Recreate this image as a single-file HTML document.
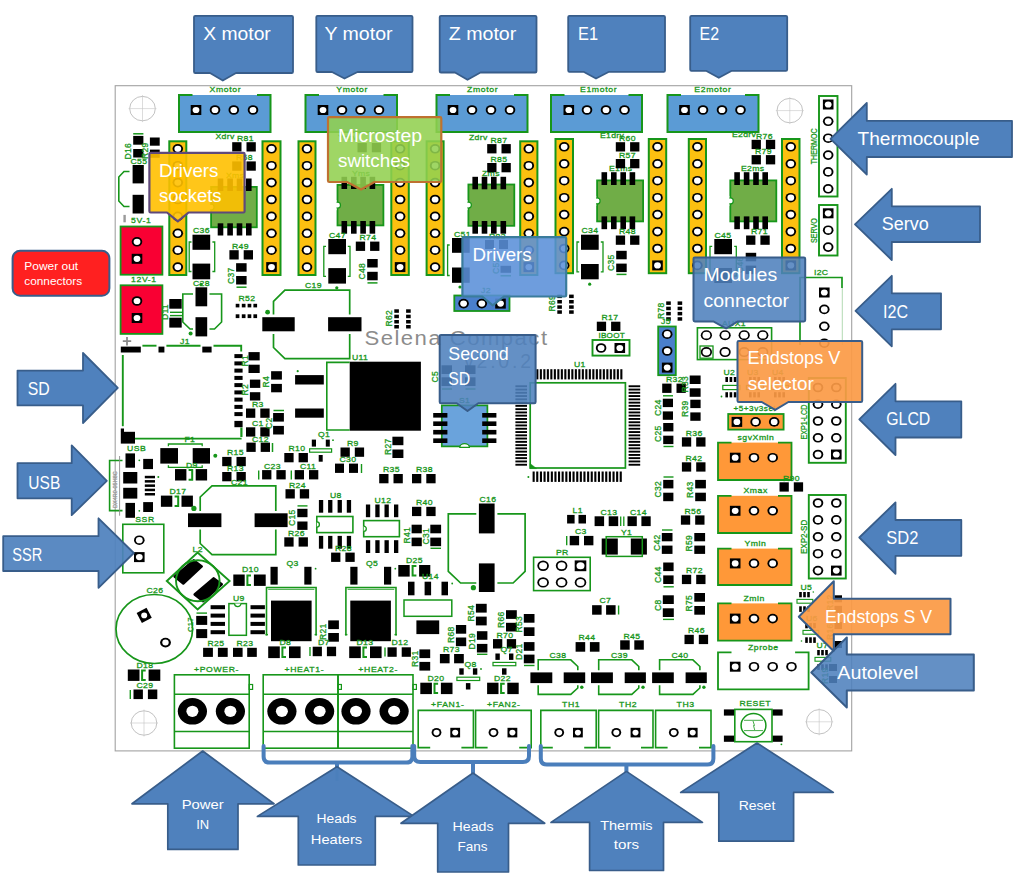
<!DOCTYPE html>
<html lang="en">
<head>
<meta charset="utf-8">
<title>Selena Compact board connections</title>
<style>
html,body{margin:0;padding:0;background:#fff;}
body{width:1018px;height:877px;overflow:hidden;font-family:"Liberation Sans",sans-serif;}
svg{display:block;}
svg text{font-family:"Liberation Sans",sans-serif;}
</style>
</head>
<body>
<svg width="1018" height="877" viewBox="0 0 1018 877">
<rect width="1018" height="877" fill="#fff"/>
<g id="pcb">
<rect x="115.2" y="85.7" width="736.5" height="665.2" fill="#fff" stroke="#a2a2a2" stroke-width="1.1"/>
<ellipse cx="142.5" cy="108.6" rx="12.8" ry="12.2" fill="none" stroke="#a8a8a8" stroke-width="0.7"/>
<path d="M128.5 108.6 h28 M142.5 95.1 v27" stroke="#c4c4c4" stroke-width="0.6" fill="none"/>
<ellipse cx="789.8" cy="110.6" rx="12.8" ry="12.2" fill="none" stroke="#a8a8a8" stroke-width="0.7"/>
<path d="M775.8 110.6 h28 M789.8 97.1 v27" stroke="#c4c4c4" stroke-width="0.6" fill="none"/>
<ellipse cx="144" cy="723" rx="12.8" ry="12.2" fill="none" stroke="#a8a8a8" stroke-width="0.7"/>
<path d="M130 723 h28 M144 709.5 v27" stroke="#c4c4c4" stroke-width="0.6" fill="none"/>
<ellipse cx="819.2" cy="721.8" rx="12.8" ry="12.2" fill="none" stroke="#a8a8a8" stroke-width="0.7"/>
<path d="M805.2 721.8 h28 M819.2 708.3 v27" stroke="#c4c4c4" stroke-width="0.6" fill="none"/>
<rect x="179" y="95" width="91.5" height="37" fill="#5b9bd5"/>
<path d="M192.5 95 L179 95 L179 132 L270.5 132 L270.5 95 L257 95" fill="none" stroke="#17961a" stroke-width="2" />
<rect x="190.7" y="105" width="10.6" height="10" fill="#000"/>
<ellipse cx="196" cy="110" rx="3.4" ry="3.1" fill="#fff"/>
<ellipse cx="215" cy="110" rx="5.3" ry="4.8" fill="#000"/>
<ellipse cx="215" cy="110" rx="3.4" ry="3.1" fill="#fff"/>
<ellipse cx="233.8" cy="110" rx="5.3" ry="4.8" fill="#000"/>
<ellipse cx="233.8" cy="110" rx="3.4" ry="3.1" fill="#fff"/>
<ellipse cx="253" cy="110" rx="5.3" ry="4.8" fill="#000"/>
<ellipse cx="253" cy="110" rx="3.4" ry="3.1" fill="#fff"/>
<text transform="translate(209.5 92) scale(1.07 1)" font-size="8.1" fill="#17961a" stroke="#17961a" stroke-width="0.3" text-anchor="start" letter-spacing="0.6" >Xmotor</text>
<rect x="305.5" y="95" width="91.5" height="37" fill="#5b9bd5"/>
<path d="M319 95 L305.5 95 L305.5 132 L397 132 L397 95 L383.5 95" fill="none" stroke="#17961a" stroke-width="2" />
<rect x="317.7" y="105" width="10.6" height="10" fill="#000"/>
<ellipse cx="323" cy="110" rx="3.4" ry="3.1" fill="#fff"/>
<ellipse cx="342" cy="110" rx="5.3" ry="4.8" fill="#000"/>
<ellipse cx="342" cy="110" rx="3.4" ry="3.1" fill="#fff"/>
<ellipse cx="360.5" cy="110" rx="5.3" ry="4.8" fill="#000"/>
<ellipse cx="360.5" cy="110" rx="3.4" ry="3.1" fill="#fff"/>
<ellipse cx="379" cy="110" rx="5.3" ry="4.8" fill="#000"/>
<ellipse cx="379" cy="110" rx="3.4" ry="3.1" fill="#fff"/>
<text transform="translate(336.3 92) scale(1.07 1)" font-size="8.1" fill="#17961a" stroke="#17961a" stroke-width="0.3" text-anchor="start" letter-spacing="0.6" >Ymotor</text>
<rect x="436.5" y="95" width="91" height="37" fill="#5b9bd5"/>
<path d="M450 95 L436.5 95 L436.5 132 L527.5 132 L527.5 95 L514 95" fill="none" stroke="#17961a" stroke-width="2" />
<rect x="447.7" y="105" width="10.6" height="10" fill="#000"/>
<ellipse cx="453" cy="110" rx="3.4" ry="3.1" fill="#fff"/>
<ellipse cx="472" cy="110" rx="5.3" ry="4.8" fill="#000"/>
<ellipse cx="472" cy="110" rx="3.4" ry="3.1" fill="#fff"/>
<ellipse cx="491" cy="110" rx="5.3" ry="4.8" fill="#000"/>
<ellipse cx="491" cy="110" rx="3.4" ry="3.1" fill="#fff"/>
<ellipse cx="510" cy="110" rx="5.3" ry="4.8" fill="#000"/>
<ellipse cx="510" cy="110" rx="3.4" ry="3.1" fill="#fff"/>
<text transform="translate(467 92) scale(1.07 1)" font-size="8.1" fill="#17961a" stroke="#17961a" stroke-width="0.3" text-anchor="start" letter-spacing="0.6" >Zmotor</text>
<rect x="551" y="95" width="91" height="37" fill="#5b9bd5"/>
<path d="M564.5 95 L551 95 L551 132 L642 132 L642 95 L628.5 95" fill="none" stroke="#17961a" stroke-width="2" />
<rect x="563.5" y="105" width="10.6" height="10" fill="#000"/>
<ellipse cx="568.8" cy="110" rx="3.4" ry="3.1" fill="#fff"/>
<ellipse cx="587" cy="110" rx="5.3" ry="4.8" fill="#000"/>
<ellipse cx="587" cy="110" rx="3.4" ry="3.1" fill="#fff"/>
<ellipse cx="606" cy="110" rx="5.3" ry="4.8" fill="#000"/>
<ellipse cx="606" cy="110" rx="3.4" ry="3.1" fill="#fff"/>
<ellipse cx="624.5" cy="110" rx="5.3" ry="4.8" fill="#000"/>
<ellipse cx="624.5" cy="110" rx="3.4" ry="3.1" fill="#fff"/>
<text transform="translate(580 92) scale(1.07 1)" font-size="8.1" fill="#17961a" stroke="#17961a" stroke-width="0.3" text-anchor="start" letter-spacing="0.6" >E1motor</text>
<rect x="667.5" y="95" width="91" height="37" fill="#5b9bd5"/>
<path d="M681 95 L667.5 95 L667.5 132 L758.5 132 L758.5 95 L745 95" fill="none" stroke="#17961a" stroke-width="2" />
<rect x="679.2" y="105" width="10.6" height="10" fill="#000"/>
<ellipse cx="684.5" cy="110" rx="3.4" ry="3.1" fill="#fff"/>
<ellipse cx="703" cy="110" rx="5.3" ry="4.8" fill="#000"/>
<ellipse cx="703" cy="110" rx="3.4" ry="3.1" fill="#fff"/>
<ellipse cx="722" cy="110" rx="5.3" ry="4.8" fill="#000"/>
<ellipse cx="722" cy="110" rx="3.4" ry="3.1" fill="#fff"/>
<ellipse cx="740.5" cy="110" rx="5.3" ry="4.8" fill="#000"/>
<ellipse cx="740.5" cy="110" rx="3.4" ry="3.1" fill="#fff"/>
<text transform="translate(694.3 92) scale(1.07 1)" font-size="8.1" fill="#17961a" stroke="#17961a" stroke-width="0.3" text-anchor="start" letter-spacing="0.6" >E2motor</text>
<rect x="169.3" y="141.3" width="17" height="133.7" fill="#fcc010" stroke="#17961a" stroke-width="2"/>
<ellipse cx="177.8" cy="148.8" rx="5.3" ry="4.8" fill="#000"/>
<ellipse cx="177.8" cy="148.8" rx="3.4" ry="3.1" fill="#fff"/>
<ellipse cx="177.8" cy="165.7" rx="5.3" ry="4.8" fill="#000"/>
<ellipse cx="177.8" cy="165.7" rx="3.4" ry="3.1" fill="#fff"/>
<ellipse cx="177.8" cy="182.6" rx="5.3" ry="4.8" fill="#000"/>
<ellipse cx="177.8" cy="182.6" rx="3.4" ry="3.1" fill="#fff"/>
<ellipse cx="177.8" cy="199.5" rx="5.3" ry="4.8" fill="#000"/>
<ellipse cx="177.8" cy="199.5" rx="3.4" ry="3.1" fill="#fff"/>
<ellipse cx="177.8" cy="216.4" rx="5.3" ry="4.8" fill="#000"/>
<ellipse cx="177.8" cy="216.4" rx="3.4" ry="3.1" fill="#fff"/>
<ellipse cx="177.8" cy="233.3" rx="5.3" ry="4.8" fill="#000"/>
<ellipse cx="177.8" cy="233.3" rx="3.4" ry="3.1" fill="#fff"/>
<ellipse cx="177.8" cy="250.2" rx="5.3" ry="4.8" fill="#000"/>
<ellipse cx="177.8" cy="250.2" rx="3.4" ry="3.1" fill="#fff"/>
<ellipse cx="177.8" cy="267.1" rx="5.3" ry="4.8" fill="#000"/>
<ellipse cx="177.8" cy="267.1" rx="3.4" ry="3.1" fill="#fff"/>
<rect x="262.5" y="141.3" width="18" height="133.7" fill="#fcc010" stroke="#17961a" stroke-width="2"/>
<ellipse cx="271.5" cy="148.8" rx="5.3" ry="4.8" fill="#000"/>
<ellipse cx="271.5" cy="148.8" rx="3.4" ry="3.1" fill="#fff"/>
<ellipse cx="271.5" cy="165.7" rx="5.3" ry="4.8" fill="#000"/>
<ellipse cx="271.5" cy="165.7" rx="3.4" ry="3.1" fill="#fff"/>
<ellipse cx="271.5" cy="182.6" rx="5.3" ry="4.8" fill="#000"/>
<ellipse cx="271.5" cy="182.6" rx="3.4" ry="3.1" fill="#fff"/>
<ellipse cx="271.5" cy="199.5" rx="5.3" ry="4.8" fill="#000"/>
<ellipse cx="271.5" cy="199.5" rx="3.4" ry="3.1" fill="#fff"/>
<ellipse cx="271.5" cy="216.4" rx="5.3" ry="4.8" fill="#000"/>
<ellipse cx="271.5" cy="216.4" rx="3.4" ry="3.1" fill="#fff"/>
<ellipse cx="271.5" cy="233.3" rx="5.3" ry="4.8" fill="#000"/>
<ellipse cx="271.5" cy="233.3" rx="3.4" ry="3.1" fill="#fff"/>
<ellipse cx="271.5" cy="250.2" rx="5.3" ry="4.8" fill="#000"/>
<ellipse cx="271.5" cy="250.2" rx="3.4" ry="3.1" fill="#fff"/>
<rect x="266.2" y="262.1" width="10.6" height="10" fill="#000"/>
<ellipse cx="271.5" cy="267.1" rx="3.4" ry="3.1" fill="#fff"/>
<rect x="298.5" y="141.3" width="17" height="133.7" fill="#fcc010" stroke="#17961a" stroke-width="2"/>
<ellipse cx="307" cy="148.8" rx="5.3" ry="4.8" fill="#000"/>
<ellipse cx="307" cy="148.8" rx="3.4" ry="3.1" fill="#fff"/>
<ellipse cx="307" cy="165.7" rx="5.3" ry="4.8" fill="#000"/>
<ellipse cx="307" cy="165.7" rx="3.4" ry="3.1" fill="#fff"/>
<ellipse cx="307" cy="182.6" rx="5.3" ry="4.8" fill="#000"/>
<ellipse cx="307" cy="182.6" rx="3.4" ry="3.1" fill="#fff"/>
<ellipse cx="307" cy="199.5" rx="5.3" ry="4.8" fill="#000"/>
<ellipse cx="307" cy="199.5" rx="3.4" ry="3.1" fill="#fff"/>
<ellipse cx="307" cy="216.4" rx="5.3" ry="4.8" fill="#000"/>
<ellipse cx="307" cy="216.4" rx="3.4" ry="3.1" fill="#fff"/>
<ellipse cx="307" cy="233.3" rx="5.3" ry="4.8" fill="#000"/>
<ellipse cx="307" cy="233.3" rx="3.4" ry="3.1" fill="#fff"/>
<ellipse cx="307" cy="250.2" rx="5.3" ry="4.8" fill="#000"/>
<ellipse cx="307" cy="250.2" rx="3.4" ry="3.1" fill="#fff"/>
<ellipse cx="307" cy="267.1" rx="5.3" ry="4.8" fill="#000"/>
<ellipse cx="307" cy="267.1" rx="3.4" ry="3.1" fill="#fff"/>
<rect x="391.3" y="141.3" width="17.5" height="133.7" fill="#fcc010" stroke="#17961a" stroke-width="2"/>
<ellipse cx="400.1" cy="148.8" rx="5.3" ry="4.8" fill="#000"/>
<ellipse cx="400.1" cy="148.8" rx="3.4" ry="3.1" fill="#fff"/>
<ellipse cx="400.1" cy="165.7" rx="5.3" ry="4.8" fill="#000"/>
<ellipse cx="400.1" cy="165.7" rx="3.4" ry="3.1" fill="#fff"/>
<ellipse cx="400.1" cy="182.6" rx="5.3" ry="4.8" fill="#000"/>
<ellipse cx="400.1" cy="182.6" rx="3.4" ry="3.1" fill="#fff"/>
<ellipse cx="400.1" cy="199.5" rx="5.3" ry="4.8" fill="#000"/>
<ellipse cx="400.1" cy="199.5" rx="3.4" ry="3.1" fill="#fff"/>
<ellipse cx="400.1" cy="216.4" rx="5.3" ry="4.8" fill="#000"/>
<ellipse cx="400.1" cy="216.4" rx="3.4" ry="3.1" fill="#fff"/>
<ellipse cx="400.1" cy="233.3" rx="5.3" ry="4.8" fill="#000"/>
<ellipse cx="400.1" cy="233.3" rx="3.4" ry="3.1" fill="#fff"/>
<ellipse cx="400.1" cy="250.2" rx="5.3" ry="4.8" fill="#000"/>
<ellipse cx="400.1" cy="250.2" rx="3.4" ry="3.1" fill="#fff"/>
<rect x="394.8" y="262.1" width="10.6" height="10" fill="#000"/>
<ellipse cx="400.1" cy="267.1" rx="3.4" ry="3.1" fill="#fff"/>
<rect x="426.6" y="141.3" width="17" height="133.7" fill="#fcc010" stroke="#17961a" stroke-width="2"/>
<ellipse cx="435.1" cy="148.8" rx="5.3" ry="4.8" fill="#000"/>
<ellipse cx="435.1" cy="148.8" rx="3.4" ry="3.1" fill="#fff"/>
<ellipse cx="435.1" cy="165.7" rx="5.3" ry="4.8" fill="#000"/>
<ellipse cx="435.1" cy="165.7" rx="3.4" ry="3.1" fill="#fff"/>
<ellipse cx="435.1" cy="182.6" rx="5.3" ry="4.8" fill="#000"/>
<ellipse cx="435.1" cy="182.6" rx="3.4" ry="3.1" fill="#fff"/>
<ellipse cx="435.1" cy="199.5" rx="5.3" ry="4.8" fill="#000"/>
<ellipse cx="435.1" cy="199.5" rx="3.4" ry="3.1" fill="#fff"/>
<ellipse cx="435.1" cy="216.4" rx="5.3" ry="4.8" fill="#000"/>
<ellipse cx="435.1" cy="216.4" rx="3.4" ry="3.1" fill="#fff"/>
<ellipse cx="435.1" cy="233.3" rx="5.3" ry="4.8" fill="#000"/>
<ellipse cx="435.1" cy="233.3" rx="3.4" ry="3.1" fill="#fff"/>
<ellipse cx="435.1" cy="250.2" rx="5.3" ry="4.8" fill="#000"/>
<ellipse cx="435.1" cy="250.2" rx="3.4" ry="3.1" fill="#fff"/>
<ellipse cx="435.1" cy="267.1" rx="5.3" ry="4.8" fill="#000"/>
<ellipse cx="435.1" cy="267.1" rx="3.4" ry="3.1" fill="#fff"/>
<rect x="520.2" y="141.3" width="17.2" height="133.7" fill="#fcc010" stroke="#17961a" stroke-width="2"/>
<ellipse cx="528.8" cy="148.8" rx="5.3" ry="4.8" fill="#000"/>
<ellipse cx="528.8" cy="148.8" rx="3.4" ry="3.1" fill="#fff"/>
<ellipse cx="528.8" cy="165.7" rx="5.3" ry="4.8" fill="#000"/>
<ellipse cx="528.8" cy="165.7" rx="3.4" ry="3.1" fill="#fff"/>
<ellipse cx="528.8" cy="182.6" rx="5.3" ry="4.8" fill="#000"/>
<ellipse cx="528.8" cy="182.6" rx="3.4" ry="3.1" fill="#fff"/>
<ellipse cx="528.8" cy="199.5" rx="5.3" ry="4.8" fill="#000"/>
<ellipse cx="528.8" cy="199.5" rx="3.4" ry="3.1" fill="#fff"/>
<ellipse cx="528.8" cy="216.4" rx="5.3" ry="4.8" fill="#000"/>
<ellipse cx="528.8" cy="216.4" rx="3.4" ry="3.1" fill="#fff"/>
<ellipse cx="528.8" cy="233.3" rx="5.3" ry="4.8" fill="#000"/>
<ellipse cx="528.8" cy="233.3" rx="3.4" ry="3.1" fill="#fff"/>
<ellipse cx="528.8" cy="250.2" rx="5.3" ry="4.8" fill="#000"/>
<ellipse cx="528.8" cy="250.2" rx="3.4" ry="3.1" fill="#fff"/>
<rect x="523.5" y="262.1" width="10.6" height="10" fill="#000"/>
<ellipse cx="528.8" cy="267.1" rx="3.4" ry="3.1" fill="#fff"/>
<rect x="555.5" y="139" width="17.5" height="134.2" fill="#fcc010" stroke="#17961a" stroke-width="2"/>
<ellipse cx="564.2" cy="146.8" rx="5.3" ry="4.8" fill="#000"/>
<ellipse cx="564.2" cy="146.8" rx="3.4" ry="3.1" fill="#fff"/>
<ellipse cx="564.2" cy="163.8" rx="5.3" ry="4.8" fill="#000"/>
<ellipse cx="564.2" cy="163.8" rx="3.4" ry="3.1" fill="#fff"/>
<ellipse cx="564.2" cy="180.7" rx="5.3" ry="4.8" fill="#000"/>
<ellipse cx="564.2" cy="180.7" rx="3.4" ry="3.1" fill="#fff"/>
<ellipse cx="564.2" cy="197.7" rx="5.3" ry="4.8" fill="#000"/>
<ellipse cx="564.2" cy="197.7" rx="3.4" ry="3.1" fill="#fff"/>
<ellipse cx="564.2" cy="214.6" rx="5.3" ry="4.8" fill="#000"/>
<ellipse cx="564.2" cy="214.6" rx="3.4" ry="3.1" fill="#fff"/>
<ellipse cx="564.2" cy="231.6" rx="5.3" ry="4.8" fill="#000"/>
<ellipse cx="564.2" cy="231.6" rx="3.4" ry="3.1" fill="#fff"/>
<ellipse cx="564.2" cy="248.5" rx="5.3" ry="4.8" fill="#000"/>
<ellipse cx="564.2" cy="248.5" rx="3.4" ry="3.1" fill="#fff"/>
<ellipse cx="564.2" cy="265.4" rx="5.3" ry="4.8" fill="#000"/>
<ellipse cx="564.2" cy="265.4" rx="3.4" ry="3.1" fill="#fff"/>
<rect x="648.8" y="139" width="17.4" height="134.2" fill="#fcc010" stroke="#17961a" stroke-width="2"/>
<ellipse cx="657.5" cy="146.8" rx="5.3" ry="4.8" fill="#000"/>
<ellipse cx="657.5" cy="146.8" rx="3.4" ry="3.1" fill="#fff"/>
<ellipse cx="657.5" cy="163.8" rx="5.3" ry="4.8" fill="#000"/>
<ellipse cx="657.5" cy="163.8" rx="3.4" ry="3.1" fill="#fff"/>
<ellipse cx="657.5" cy="180.7" rx="5.3" ry="4.8" fill="#000"/>
<ellipse cx="657.5" cy="180.7" rx="3.4" ry="3.1" fill="#fff"/>
<ellipse cx="657.5" cy="197.7" rx="5.3" ry="4.8" fill="#000"/>
<ellipse cx="657.5" cy="197.7" rx="3.4" ry="3.1" fill="#fff"/>
<ellipse cx="657.5" cy="214.6" rx="5.3" ry="4.8" fill="#000"/>
<ellipse cx="657.5" cy="214.6" rx="3.4" ry="3.1" fill="#fff"/>
<ellipse cx="657.5" cy="231.6" rx="5.3" ry="4.8" fill="#000"/>
<ellipse cx="657.5" cy="231.6" rx="3.4" ry="3.1" fill="#fff"/>
<ellipse cx="657.5" cy="248.5" rx="5.3" ry="4.8" fill="#000"/>
<ellipse cx="657.5" cy="248.5" rx="3.4" ry="3.1" fill="#fff"/>
<rect x="652.2" y="260.4" width="10.6" height="10" fill="#000"/>
<ellipse cx="657.5" cy="265.4" rx="3.4" ry="3.1" fill="#fff"/>
<rect x="688.8" y="139" width="17.2" height="134.2" fill="#fcc010" stroke="#17961a" stroke-width="2"/>
<ellipse cx="697.4" cy="146.8" rx="5.3" ry="4.8" fill="#000"/>
<ellipse cx="697.4" cy="146.8" rx="3.4" ry="3.1" fill="#fff"/>
<ellipse cx="697.4" cy="163.8" rx="5.3" ry="4.8" fill="#000"/>
<ellipse cx="697.4" cy="163.8" rx="3.4" ry="3.1" fill="#fff"/>
<ellipse cx="697.4" cy="180.7" rx="5.3" ry="4.8" fill="#000"/>
<ellipse cx="697.4" cy="180.7" rx="3.4" ry="3.1" fill="#fff"/>
<ellipse cx="697.4" cy="197.7" rx="5.3" ry="4.8" fill="#000"/>
<ellipse cx="697.4" cy="197.7" rx="3.4" ry="3.1" fill="#fff"/>
<ellipse cx="697.4" cy="214.6" rx="5.3" ry="4.8" fill="#000"/>
<ellipse cx="697.4" cy="214.6" rx="3.4" ry="3.1" fill="#fff"/>
<ellipse cx="697.4" cy="231.6" rx="5.3" ry="4.8" fill="#000"/>
<ellipse cx="697.4" cy="231.6" rx="3.4" ry="3.1" fill="#fff"/>
<ellipse cx="697.4" cy="248.5" rx="5.3" ry="4.8" fill="#000"/>
<ellipse cx="697.4" cy="248.5" rx="3.4" ry="3.1" fill="#fff"/>
<ellipse cx="697.4" cy="265.4" rx="5.3" ry="4.8" fill="#000"/>
<ellipse cx="697.4" cy="265.4" rx="3.4" ry="3.1" fill="#fff"/>
<rect x="782" y="139" width="17.5" height="134.2" fill="#fcc010" stroke="#17961a" stroke-width="2"/>
<ellipse cx="790.8" cy="146.8" rx="5.3" ry="4.8" fill="#000"/>
<ellipse cx="790.8" cy="146.8" rx="3.4" ry="3.1" fill="#fff"/>
<ellipse cx="790.8" cy="163.8" rx="5.3" ry="4.8" fill="#000"/>
<ellipse cx="790.8" cy="163.8" rx="3.4" ry="3.1" fill="#fff"/>
<ellipse cx="790.8" cy="180.7" rx="5.3" ry="4.8" fill="#000"/>
<ellipse cx="790.8" cy="180.7" rx="3.4" ry="3.1" fill="#fff"/>
<ellipse cx="790.8" cy="197.7" rx="5.3" ry="4.8" fill="#000"/>
<ellipse cx="790.8" cy="197.7" rx="3.4" ry="3.1" fill="#fff"/>
<ellipse cx="790.8" cy="214.6" rx="5.3" ry="4.8" fill="#000"/>
<ellipse cx="790.8" cy="214.6" rx="3.4" ry="3.1" fill="#fff"/>
<ellipse cx="790.8" cy="231.6" rx="5.3" ry="4.8" fill="#000"/>
<ellipse cx="790.8" cy="231.6" rx="3.4" ry="3.1" fill="#fff"/>
<ellipse cx="790.8" cy="248.5" rx="5.3" ry="4.8" fill="#000"/>
<ellipse cx="790.8" cy="248.5" rx="3.4" ry="3.1" fill="#fff"/>
<rect x="785.5" y="260.4" width="10.6" height="10" fill="#000"/>
<ellipse cx="790.8" cy="265.4" rx="3.4" ry="3.1" fill="#fff"/>
<rect x="211.1" y="186.9" width="45.7" height="40.4" fill="#70ad47" stroke="#17961a" stroke-width="1.8"/>
<circle cx="211.1" cy="207.1" r="3" fill="#fff" stroke="#17961a" stroke-width="1.2"/>
<rect x="206.2" y="202.1" width="4" height="10" fill="#fff"/>
<rect x="217.7" y="178.5" width="5.6" height="12.5" fill="#000"/>
<rect x="217.7" y="223.3" width="5.6" height="12.2" fill="#000"/>
<rect x="227.3" y="178.5" width="5.6" height="12.5" fill="#000"/>
<rect x="227.3" y="223.3" width="5.6" height="12.2" fill="#000"/>
<rect x="236.7" y="178.5" width="5.6" height="12.5" fill="#000"/>
<rect x="236.7" y="223.3" width="5.6" height="12.2" fill="#000"/>
<rect x="246" y="178.5" width="5.6" height="12.5" fill="#000"/>
<rect x="246" y="223.3" width="5.6" height="12.2" fill="#000"/>
<text transform="translate(226 178) scale(1.07 1)" font-size="8.1" fill="#17961a" stroke="#17961a" stroke-width="0.3" text-anchor="start" letter-spacing="0.3" >Xms</text>
<rect x="337.5" y="184.9" width="45.9" height="40.5" fill="#70ad47" stroke="#17961a" stroke-width="1.8"/>
<circle cx="337.5" cy="205.2" r="3" fill="#fff" stroke="#17961a" stroke-width="1.2"/>
<rect x="332.6" y="200.2" width="4" height="10" fill="#fff"/>
<rect x="341.5" y="176.8" width="5.6" height="12.2" fill="#000"/>
<rect x="341.5" y="221" width="5.6" height="12.7" fill="#000"/>
<rect x="351" y="176.8" width="5.6" height="12.2" fill="#000"/>
<rect x="351" y="221" width="5.6" height="12.7" fill="#000"/>
<rect x="360.3" y="176.8" width="5.6" height="12.2" fill="#000"/>
<rect x="360.3" y="221" width="5.6" height="12.7" fill="#000"/>
<rect x="369.6" y="176.8" width="5.6" height="12.2" fill="#000"/>
<rect x="369.6" y="221" width="5.6" height="12.7" fill="#000"/>
<text transform="translate(352 176) scale(1.07 1)" font-size="8.1" fill="#17961a" stroke="#17961a" stroke-width="0.3" text-anchor="start" letter-spacing="0.3" >Yms</text>
<rect x="468.4" y="184.5" width="45.9" height="41.3" fill="#70ad47" stroke="#17961a" stroke-width="1.8"/>
<circle cx="468.4" cy="205.1" r="3" fill="#fff" stroke="#17961a" stroke-width="1.2"/>
<rect x="463.5" y="200.1" width="4" height="10" fill="#fff"/>
<rect x="472.4" y="176.8" width="5.6" height="12.5" fill="#000"/>
<rect x="472.4" y="221" width="5.6" height="12.7" fill="#000"/>
<rect x="481.7" y="176.8" width="5.6" height="12.5" fill="#000"/>
<rect x="481.7" y="221" width="5.6" height="12.7" fill="#000"/>
<rect x="491" y="176.8" width="5.6" height="12.5" fill="#000"/>
<rect x="491" y="221" width="5.6" height="12.7" fill="#000"/>
<rect x="500.5" y="176.8" width="5.6" height="12.5" fill="#000"/>
<rect x="500.5" y="221" width="5.6" height="12.7" fill="#000"/>
<text transform="translate(482 175.5) scale(1.07 1)" font-size="8.1" fill="#17961a" stroke="#17961a" stroke-width="0.3" text-anchor="start" letter-spacing="0.3" >Zms</text>
<rect x="597.1" y="180.4" width="46" height="41" fill="#70ad47" stroke="#17961a" stroke-width="1.8"/>
<circle cx="597.1" cy="200.9" r="3" fill="#fff" stroke="#17961a" stroke-width="1.2"/>
<rect x="592.2" y="195.9" width="4" height="10" fill="#fff"/>
<rect x="601.5" y="172.2" width="5.6" height="12.8" fill="#000"/>
<rect x="601.5" y="216.4" width="5.6" height="12.8" fill="#000"/>
<rect x="611" y="172.2" width="5.6" height="12.8" fill="#000"/>
<rect x="611" y="216.4" width="5.6" height="12.8" fill="#000"/>
<rect x="620.4" y="172.2" width="5.6" height="12.8" fill="#000"/>
<rect x="620.4" y="216.4" width="5.6" height="12.8" fill="#000"/>
<rect x="629.6" y="172.2" width="5.6" height="12.8" fill="#000"/>
<rect x="629.6" y="216.4" width="5.6" height="12.8" fill="#000"/>
<text transform="translate(609 171) scale(1.07 1)" font-size="8.1" fill="#17961a" stroke="#17961a" stroke-width="0.3" text-anchor="start" letter-spacing="0.3" >E1ms</text>
<rect x="730.3" y="180.4" width="46" height="41" fill="#70ad47" stroke="#17961a" stroke-width="1.8"/>
<circle cx="730.3" cy="200.9" r="3" fill="#fff" stroke="#17961a" stroke-width="1.2"/>
<rect x="725.4" y="195.9" width="4" height="10" fill="#fff"/>
<rect x="734.3" y="172.2" width="5.6" height="12.8" fill="#000"/>
<rect x="734.3" y="216.4" width="5.6" height="12.8" fill="#000"/>
<rect x="743.8" y="172.2" width="5.6" height="12.8" fill="#000"/>
<rect x="743.8" y="216.4" width="5.6" height="12.8" fill="#000"/>
<rect x="753.2" y="172.2" width="5.6" height="12.8" fill="#000"/>
<rect x="753.2" y="216.4" width="5.6" height="12.8" fill="#000"/>
<rect x="762.4" y="172.2" width="5.6" height="12.8" fill="#000"/>
<rect x="762.4" y="216.4" width="5.6" height="12.8" fill="#000"/>
<text transform="translate(741 171) scale(1.07 1)" font-size="8.1" fill="#17961a" stroke="#17961a" stroke-width="0.3" text-anchor="start" letter-spacing="0.3" >E2ms</text>
<rect x="133.2" y="135.9" width="10.2" height="8.8" fill="#000"/>
<rect x="133.2" y="149" width="10.2" height="8.5" fill="#000"/>
<path d="M133.2 133.8 L143.4 133.8" fill="none" stroke="#17961a" stroke-width="1.5" />
<text transform="translate(131 159.5) rotate(-90) scale(1.00 1)" font-size="8.5" fill="#17961a" stroke="#17961a" stroke-width="0.3" text-anchor="start" letter-spacing="0.3" >D16</text>
<rect x="149.9" y="137.5" width="9.8" height="8.2" fill="#000"/>
<rect x="149.9" y="149.6" width="9.8" height="8.2" fill="#000"/>
<text transform="translate(147.5 159) rotate(-90) scale(1.00 1)" font-size="8.5" fill="#17961a" stroke="#17961a" stroke-width="0.3" text-anchor="start" letter-spacing="0.3" >R29</text>
<rect x="132.6" y="165" width="11.2" height="18.4" fill="#000"/>
<rect x="132.6" y="194.8" width="11.2" height="18.7" fill="#000"/>
<path d="M129.5 171.5 L124 171.5 L118.8 177 L118.8 201 L124 206.5 L129.5 206.5" fill="none" stroke="#17961a" stroke-width="1.6" />
<text transform="translate(130.5 163.5) scale(1.07 1)" font-size="8.1" fill="#17961a" stroke="#17961a" stroke-width="0.3" text-anchor="start" letter-spacing="0.3" >C55</text>
<rect x="123.4" y="214.9" width="2.4" height="7.4" fill="#9a9a9a"/>
<rect x="232.2" y="142.2" width="9.3" height="9.3" fill="#000"/>
<rect x="246.5" y="142.2" width="9.3" height="9.3" fill="#000"/>
<text transform="translate(237 140.5) scale(1.07 1)" font-size="8.1" fill="#17961a" stroke="#17961a" stroke-width="0.3" text-anchor="start" letter-spacing="0.3" >R81</text>
<rect x="232.2" y="161.4" width="9.3" height="9.3" fill="#000"/>
<rect x="246.5" y="161.4" width="9.3" height="9.3" fill="#000"/>
<text transform="translate(236 160) scale(1.07 1)" font-size="8.1" fill="#17961a" stroke="#17961a" stroke-width="0.3" text-anchor="start" letter-spacing="0.3" >R58</text>
<text transform="translate(215.5 138.5) scale(1.07 1)" font-size="8.1" fill="#17961a" stroke="#17961a" stroke-width="0.3" text-anchor="start" letter-spacing="0.3" >Xdrv</text>
<rect x="192.5" y="234.7" width="17.7" height="15.1" fill="#000"/>
<rect x="192.5" y="263.6" width="17.7" height="15.7" fill="#000"/>
<path d="M191.5 242 L189.2 242 L189.2 271.5 L191.5 271.5" fill="none" stroke="#17961a" stroke-width="1.3" />
<path d="M212.4 242 L214.7 242 L214.7 271.5 L212.4 271.5" fill="none" stroke="#17961a" stroke-width="1.3" />
<text transform="translate(193 233) scale(1.07 1)" font-size="8.1" fill="#17961a" stroke="#17961a" stroke-width="0.3" text-anchor="start" letter-spacing="0.3" >C36</text>
<rect x="229.4" y="250.2" width="9.3" height="9.3" fill="#000"/>
<rect x="243.7" y="250.2" width="9.3" height="9.3" fill="#000"/>
<text transform="translate(232 248.5) scale(1.07 1)" font-size="8.1" fill="#17961a" stroke="#17961a" stroke-width="0.3" text-anchor="start" letter-spacing="0.3" >R49</text>
<rect x="236.1" y="263.2" width="10.5" height="8.5" fill="#000"/>
<rect x="236.1" y="276" width="10.5" height="8.5" fill="#000"/>
<text transform="translate(233.5 284) rotate(-90) scale(1.00 1)" font-size="8.5" fill="#17961a" stroke="#17961a" stroke-width="0.3" text-anchor="start" letter-spacing="0.3" >C37</text>
<path d="M236.5 287.2 L246.5 287.2" fill="none" stroke="#17961a" stroke-width="1.5" />
<rect x="328.3" y="239" width="17.7" height="15.2" fill="#000"/>
<rect x="328.3" y="268.1" width="17.7" height="15.5" fill="#000"/>
<path d="M326 246.3 L323.8 246.3 L323.8 276.4 L326 276.4" fill="none" stroke="#17961a" stroke-width="1.3" />
<path d="M347.8 246.3 L350 246.3 L350 276.4 L347.8 276.4" fill="none" stroke="#17961a" stroke-width="1.3" />
<circle cx="336.8" cy="287.8" r="1.6" fill="#17961a"/>
<text transform="translate(329 237.5) scale(1.07 1)" font-size="8.1" fill="#17961a" stroke="#17961a" stroke-width="0.3" text-anchor="start" letter-spacing="0.3" >C47</text>
<rect x="355.8" y="241.6" width="9.3" height="9.3" fill="#000"/>
<rect x="370.1" y="241.6" width="9.3" height="9.3" fill="#000"/>
<text transform="translate(359.5 240) scale(1.07 1)" font-size="8.1" fill="#17961a" stroke="#17961a" stroke-width="0.3" text-anchor="start" letter-spacing="0.3" >R74</text>
<rect x="367.2" y="259" width="10.5" height="8.5" fill="#000"/>
<rect x="367.2" y="271.8" width="10.5" height="8.5" fill="#000"/>
<text transform="translate(364.5 279.5) rotate(-90) scale(1.00 1)" font-size="8.5" fill="#17961a" stroke="#17961a" stroke-width="0.3" text-anchor="start" letter-spacing="0.3" >C48</text>
<path d="M367.5 282.9 L377.5 282.9" fill="none" stroke="#17961a" stroke-width="1.5" />
<text transform="translate(338 139.5) scale(1.07 1)" font-size="8.1" fill="#17961a" stroke="#17961a" stroke-width="0.3" text-anchor="start" letter-spacing="0.3" >Ydrv</text>
<rect x="357.5" y="143" width="9.3" height="9.3" fill="#000"/>
<rect x="371.8" y="143" width="9.3" height="9.3" fill="#000"/>
<text transform="translate(469 139.5) scale(1.07 1)" font-size="8.1" fill="#17961a" stroke="#17961a" stroke-width="0.3" text-anchor="start" letter-spacing="0.3" >Zdrv</text>
<rect x="487.2" y="144.1" width="9.3" height="9.3" fill="#000"/>
<rect x="501.5" y="144.1" width="9.3" height="9.3" fill="#000"/>
<text transform="translate(490.5 142.5) scale(1.07 1)" font-size="8.1" fill="#17961a" stroke="#17961a" stroke-width="0.3" text-anchor="start" letter-spacing="0.3" >R87</text>
<rect x="487.2" y="163" width="9.3" height="9.3" fill="#000"/>
<rect x="501.5" y="163" width="9.3" height="9.3" fill="#000"/>
<text transform="translate(490.5 161.5) scale(1.07 1)" font-size="8.1" fill="#17961a" stroke="#17961a" stroke-width="0.3" text-anchor="start" letter-spacing="0.3" >R85</text>
<rect x="452" y="238" width="17.7" height="14.8" fill="#000"/>
<rect x="452" y="267.5" width="17.7" height="15.3" fill="#000"/>
<path d="M449.7 245 L447.6 245 L447.6 275.5 L449.7 275.5" fill="none" stroke="#17961a" stroke-width="1.3" />
<circle cx="460" cy="287" r="1.6" fill="#17961a"/>
<text transform="translate(454 236.5) scale(1.07 1)" font-size="8.1" fill="#17961a" stroke="#17961a" stroke-width="0.3" text-anchor="start" letter-spacing="0.3" >C51</text>
<rect x="485" y="240" width="9" height="9" fill="#000"/>
<rect x="499" y="240" width="9" height="9" fill="#000"/>
<text transform="translate(489 238.5) scale(1.07 1)" font-size="8.1" fill="#17961a" stroke="#17961a" stroke-width="0.3" text-anchor="start" letter-spacing="0.3" >R83</text>
<rect x="500.5" y="265.8" width="10.6" height="7" fill="#000"/>
<text transform="translate(498.5 274) rotate(-90) scale(1.00 1)" font-size="8.5" fill="#17961a" stroke="#17961a" stroke-width="0.3" text-anchor="start" letter-spacing="0.3" >C52</text>
<path d="M500.5 275.8 L511 275.8" fill="none" stroke="#17961a" stroke-width="1.4" />
<text transform="translate(600 138) scale(1.07 1)" font-size="8.1" fill="#17961a" stroke="#17961a" stroke-width="0.3" text-anchor="start" letter-spacing="0.3" >E1drv</text>
<rect x="615.8" y="142.2" width="9.3" height="9.3" fill="#000"/>
<rect x="630.1" y="142.2" width="9.3" height="9.3" fill="#000"/>
<text transform="translate(619 140.5) scale(1.07 1)" font-size="8.1" fill="#17961a" stroke="#17961a" stroke-width="0.3" text-anchor="start" letter-spacing="0.3" >R60</text>
<rect x="615.8" y="159" width="9.3" height="9.3" fill="#000"/>
<rect x="630.1" y="159" width="9.3" height="9.3" fill="#000"/>
<text transform="translate(619 157.5) scale(1.07 1)" font-size="8.1" fill="#17961a" stroke="#17961a" stroke-width="0.3" text-anchor="start" letter-spacing="0.3" >R57</text>
<rect x="581" y="234.7" width="17.7" height="15.1" fill="#000"/>
<rect x="581" y="264" width="17.7" height="15.3" fill="#000"/>
<path d="M579.2 242 L577 242 L577 271.8 L579.2 271.8" fill="none" stroke="#17961a" stroke-width="1.3" />
<path d="M600.8 242 L603 242 L603 271.8 L600.8 271.8" fill="none" stroke="#17961a" stroke-width="1.3" />
<circle cx="589.7" cy="284.2" r="1.6" fill="#17961a"/>
<text transform="translate(581.5 233) scale(1.07 1)" font-size="8.1" fill="#17961a" stroke="#17961a" stroke-width="0.3" text-anchor="start" letter-spacing="0.3" >C34</text>
<rect x="615.8" y="235.5" width="9.3" height="9.3" fill="#000"/>
<rect x="630.1" y="235.5" width="9.3" height="9.3" fill="#000"/>
<text transform="translate(619 234) scale(1.07 1)" font-size="8.1" fill="#17961a" stroke="#17961a" stroke-width="0.3" text-anchor="start" letter-spacing="0.3" >R48</text>
<rect x="616.2" y="250.8" width="10.5" height="8.5" fill="#000"/>
<rect x="616.2" y="263.6" width="10.5" height="8.5" fill="#000"/>
<text transform="translate(613.5 271) rotate(-90) scale(1.00 1)" font-size="8.5" fill="#17961a" stroke="#17961a" stroke-width="0.3" text-anchor="start" letter-spacing="0.3" >C35</text>
<path d="M616.5 274.4 L626.5 274.4" fill="none" stroke="#17961a" stroke-width="1.5" />
<text transform="translate(732 136.5) scale(1.07 1)" font-size="8.1" fill="#17961a" stroke="#17961a" stroke-width="0.3" text-anchor="start" letter-spacing="0.3" >E2drv</text>
<rect x="751.6" y="139.8" width="9.3" height="9.3" fill="#000"/>
<rect x="765.9" y="139.8" width="9.3" height="9.3" fill="#000"/>
<text transform="translate(756 138.5) scale(1.07 1)" font-size="8.1" fill="#17961a" stroke="#17961a" stroke-width="0.3" text-anchor="start" letter-spacing="0.3" >R76</text>
<rect x="751.6" y="155.1" width="9.3" height="9.3" fill="#000"/>
<rect x="765.9" y="155.1" width="9.3" height="9.3" fill="#000"/>
<text transform="translate(755 154) scale(1.07 1)" font-size="8.1" fill="#17961a" stroke="#17961a" stroke-width="0.3" text-anchor="start" letter-spacing="0.3" >R79</text>
<rect x="714.3" y="239" width="17.7" height="15.2" fill="#000"/>
<rect x="714.3" y="268" width="17.7" height="15" fill="#000"/>
<path d="M712.2 246.3 L710 246.3 L710 276 L712.2 276" fill="none" stroke="#17961a" stroke-width="1.3" />
<path d="M734.2 246.3 L736.3 246.3 L736.3 276 L734.2 276" fill="none" stroke="#17961a" stroke-width="1.3" />
<text transform="translate(714.5 237.5) scale(1.07 1)" font-size="8.1" fill="#17961a" stroke="#17961a" stroke-width="0.3" text-anchor="start" letter-spacing="0.3" >C45</text>
<rect x="746.1" y="235.5" width="9.3" height="9.3" fill="#000"/>
<rect x="760.4" y="235.5" width="9.3" height="9.3" fill="#000"/>
<text transform="translate(751 234) scale(1.07 1)" font-size="8.1" fill="#17961a" stroke="#17961a" stroke-width="0.3" text-anchor="start" letter-spacing="0.3" >R71</text>
<rect x="745.7" y="252.8" width="10.5" height="8.5" fill="#000"/>
<rect x="745.7" y="265.6" width="10.5" height="8.5" fill="#000"/>
<text transform="translate(743 273) rotate(-90) scale(1.00 1)" font-size="8.5" fill="#17961a" stroke="#17961a" stroke-width="0.3" text-anchor="start" letter-spacing="0.3" >C46</text>
<rect x="819" y="96" width="18.5" height="100.5" fill="none" stroke="#17961a" stroke-width="1.9"/>
<rect x="822.9" y="99.5" width="10.6" height="10" fill="#000"/>
<ellipse cx="828.2" cy="104.5" rx="3.4" ry="3.1" fill="#fff"/>
<ellipse cx="828.2" cy="121.3" rx="5.3" ry="4.8" fill="#000"/>
<ellipse cx="828.2" cy="121.3" rx="3.4" ry="3.1" fill="#fff"/>
<ellipse cx="828.2" cy="138.2" rx="5.3" ry="4.8" fill="#000"/>
<ellipse cx="828.2" cy="138.2" rx="3.4" ry="3.1" fill="#fff"/>
<ellipse cx="828.2" cy="155.1" rx="5.3" ry="4.8" fill="#000"/>
<ellipse cx="828.2" cy="155.1" rx="3.4" ry="3.1" fill="#fff"/>
<ellipse cx="828.2" cy="171.9" rx="5.3" ry="4.8" fill="#000"/>
<ellipse cx="828.2" cy="171.9" rx="3.4" ry="3.1" fill="#fff"/>
<ellipse cx="828.2" cy="188.8" rx="5.3" ry="4.8" fill="#000"/>
<ellipse cx="828.2" cy="188.8" rx="3.4" ry="3.1" fill="#fff"/>
<text transform="translate(817 164.3) rotate(-90) scale(0.80 1)" font-size="8.9" fill="#17961a" stroke="#17961a" stroke-width="0.3" text-anchor="start" letter-spacing="0" >THERMOC</text>
<rect x="819" y="205" width="18.5" height="50.5" fill="none" stroke="#17961a" stroke-width="1.9"/>
<rect x="822.9" y="208.3" width="10.6" height="10" fill="#000"/>
<ellipse cx="828.2" cy="213.3" rx="3.4" ry="3.1" fill="#fff"/>
<ellipse cx="828.2" cy="230.2" rx="5.3" ry="4.8" fill="#000"/>
<ellipse cx="828.2" cy="230.2" rx="3.4" ry="3.1" fill="#fff"/>
<ellipse cx="828.2" cy="247.1" rx="5.3" ry="4.8" fill="#000"/>
<ellipse cx="828.2" cy="247.1" rx="3.4" ry="3.1" fill="#fff"/>
<text transform="translate(817 243) rotate(-90) scale(0.80 1)" font-size="8.9" fill="#17961a" stroke="#17961a" stroke-width="0.3" text-anchor="start" letter-spacing="0" >SERVO</text>
<path d="M842 288 L842 277.5 L800 277.5 L800 345" fill="none" stroke="#17961a" stroke-width="1.7" />
<path d="M842.3 288 L842.3 345" fill="none" stroke="#9fcf9f" stroke-width="0.8" />
<rect x="819" y="287.5" width="10.6" height="10" fill="#000"/>
<ellipse cx="824.3" cy="292.5" rx="3.4" ry="3.1" fill="#fff"/>
<ellipse cx="824.3" cy="309.4" rx="5.3" ry="4.8" fill="#000"/>
<ellipse cx="824.3" cy="309.4" rx="3.4" ry="3.1" fill="#fff"/>
<ellipse cx="824.3" cy="326.3" rx="5.3" ry="4.8" fill="#000"/>
<ellipse cx="824.3" cy="326.3" rx="3.4" ry="3.1" fill="#fff"/>
<ellipse cx="824.3" cy="343.2" rx="5.3" ry="4.8" fill="#000"/>
<ellipse cx="824.3" cy="343.2" rx="3.4" ry="3.1" fill="#fff"/>
<text transform="translate(814 274.5) scale(1.07 1)" font-size="8.1" fill="#17961a" stroke="#17961a" stroke-width="0.3" text-anchor="start" letter-spacing="0.3" >I2C</text>
<rect x="808.8" y="378" width="37" height="84.8" fill="none" stroke="#17961a" stroke-width="1.9"/>
<ellipse cx="818" cy="387.5" rx="5.3" ry="4.8" fill="#000"/>
<ellipse cx="818" cy="387.5" rx="3.4" ry="3.1" fill="#fff"/>
<ellipse cx="836.3" cy="387.5" rx="5.3" ry="4.8" fill="#000"/>
<ellipse cx="836.3" cy="387.5" rx="3.4" ry="3.1" fill="#fff"/>
<ellipse cx="818" cy="404.2" rx="5.3" ry="4.8" fill="#000"/>
<ellipse cx="818" cy="404.2" rx="3.4" ry="3.1" fill="#fff"/>
<ellipse cx="836.3" cy="404.2" rx="5.3" ry="4.8" fill="#000"/>
<ellipse cx="836.3" cy="404.2" rx="3.4" ry="3.1" fill="#fff"/>
<ellipse cx="818" cy="421" rx="5.3" ry="4.8" fill="#000"/>
<ellipse cx="818" cy="421" rx="3.4" ry="3.1" fill="#fff"/>
<ellipse cx="836.3" cy="421" rx="5.3" ry="4.8" fill="#000"/>
<ellipse cx="836.3" cy="421" rx="3.4" ry="3.1" fill="#fff"/>
<ellipse cx="818" cy="437.8" rx="5.3" ry="4.8" fill="#000"/>
<ellipse cx="818" cy="437.8" rx="3.4" ry="3.1" fill="#fff"/>
<ellipse cx="836.3" cy="437.8" rx="5.3" ry="4.8" fill="#000"/>
<ellipse cx="836.3" cy="437.8" rx="3.4" ry="3.1" fill="#fff"/>
<ellipse cx="818" cy="454.5" rx="5.3" ry="4.8" fill="#000"/>
<ellipse cx="818" cy="454.5" rx="3.4" ry="3.1" fill="#fff"/>
<rect x="831" y="449.5" width="10.6" height="10" fill="#000"/>
<ellipse cx="836.3" cy="454.5" rx="3.4" ry="3.1" fill="#fff"/>
<text transform="translate(807 439.5) rotate(-90) scale(0.80 1)" font-size="8.9" fill="#17961a" stroke="#17961a" stroke-width="0.3" text-anchor="start" letter-spacing="0" >EXP1-LCD</text>
<rect x="808.8" y="495" width="37" height="83.5" fill="none" stroke="#17961a" stroke-width="1.9"/>
<ellipse cx="818" cy="503" rx="5.3" ry="4.8" fill="#000"/>
<ellipse cx="818" cy="503" rx="3.4" ry="3.1" fill="#fff"/>
<ellipse cx="836.3" cy="503" rx="5.3" ry="4.8" fill="#000"/>
<ellipse cx="836.3" cy="503" rx="3.4" ry="3.1" fill="#fff"/>
<ellipse cx="818" cy="519.9" rx="5.3" ry="4.8" fill="#000"/>
<ellipse cx="818" cy="519.9" rx="3.4" ry="3.1" fill="#fff"/>
<ellipse cx="836.3" cy="519.9" rx="5.3" ry="4.8" fill="#000"/>
<ellipse cx="836.3" cy="519.9" rx="3.4" ry="3.1" fill="#fff"/>
<ellipse cx="818" cy="536.8" rx="5.3" ry="4.8" fill="#000"/>
<ellipse cx="818" cy="536.8" rx="3.4" ry="3.1" fill="#fff"/>
<ellipse cx="836.3" cy="536.8" rx="5.3" ry="4.8" fill="#000"/>
<ellipse cx="836.3" cy="536.8" rx="3.4" ry="3.1" fill="#fff"/>
<ellipse cx="818" cy="553.7" rx="5.3" ry="4.8" fill="#000"/>
<ellipse cx="818" cy="553.7" rx="3.4" ry="3.1" fill="#fff"/>
<ellipse cx="836.3" cy="553.7" rx="5.3" ry="4.8" fill="#000"/>
<ellipse cx="836.3" cy="553.7" rx="3.4" ry="3.1" fill="#fff"/>
<ellipse cx="818" cy="570.6" rx="5.3" ry="4.8" fill="#000"/>
<ellipse cx="818" cy="570.6" rx="3.4" ry="3.1" fill="#fff"/>
<rect x="831" y="565.6" width="10.6" height="10" fill="#000"/>
<ellipse cx="836.3" cy="570.6" rx="3.4" ry="3.1" fill="#fff"/>
<text transform="translate(807 554) rotate(-90) scale(0.90 1)" font-size="8.9" fill="#17961a" stroke="#17961a" stroke-width="0.3" text-anchor="start" letter-spacing="0" >EXP2-SD</text>
<rect x="120.6" y="226.5" width="41.8" height="48.2" fill="#f90033" stroke="#17961a" stroke-width="1.8"/>
<ellipse cx="137" cy="241.8" rx="5.3" ry="4.8" fill="#000"/>
<ellipse cx="137" cy="241.8" rx="3.4" ry="3.1" fill="#fff"/>
<rect x="131.7" y="253.8" width="10.6" height="10" fill="#000"/>
<ellipse cx="137" cy="258.8" rx="3.4" ry="3.1" fill="#fff"/>
<text transform="translate(131 223) scale(1.07 1)" font-size="8.1" fill="#17961a" stroke="#17961a" stroke-width="0.3" text-anchor="start" letter-spacing="0.6" >5V-1</text>
<rect x="120.6" y="285.3" width="41.8" height="48.6" fill="#f90033" stroke="#17961a" stroke-width="1.8"/>
<ellipse cx="137" cy="301" rx="5.3" ry="4.8" fill="#000"/>
<ellipse cx="137" cy="301" rx="3.4" ry="3.1" fill="#fff"/>
<rect x="131.7" y="313" width="10.6" height="10" fill="#000"/>
<ellipse cx="137" cy="318" rx="3.4" ry="3.1" fill="#fff"/>
<text transform="translate(131 282.4) scale(1.07 1)" font-size="8.1" fill="#17961a" stroke="#17961a" stroke-width="0.3" text-anchor="start" letter-spacing="0.6" >12V-1</text>
<rect x="169.3" y="299" width="12.4" height="9.7" fill="#000"/>
<rect x="169.3" y="317.7" width="12.4" height="9.9" fill="#000"/>
<path d="M170 312.3 L182 312.3" fill="none" stroke="#17961a" stroke-width="1.4" />
<path d="M170 315.6 L182 315.6" fill="none" stroke="#17961a" stroke-width="1.4" />
<text transform="translate(167.8 320) rotate(-90) scale(1.00 1)" font-size="8.5" fill="#17961a" stroke="#17961a" stroke-width="0.3" text-anchor="start" letter-spacing="0.3" >D11</text>
<rect x="195.5" y="287.3" width="11.7" height="19" fill="#000"/>
<rect x="195.5" y="317.2" width="11.7" height="19.2" fill="#000"/>
<path d="M193 294 L182.8 294 L182.8 322 L190 329 L193 329" fill="none" stroke="#17961a" stroke-width="1.6" />
<path d="M209.5 294 L221.6 294 L221.6 322 L214.5 329 L209.5 329" fill="none" stroke="#17961a" stroke-width="1.6" />
<circle cx="190.6" cy="333.5" r="2" fill="#17961a"/>
<circle cx="201" cy="284.3" r="1.6" fill="#17961a"/>
<text transform="translate(193 286) scale(1.07 1)" font-size="8.1" fill="#17961a" stroke="#17961a" stroke-width="0.3" text-anchor="start" letter-spacing="0.3" >C28</text>
<rect x="235.7" y="303.8" width="3.7" height="3.6" fill="#000"/>
<rect x="235.7" y="314.3" width="3.7" height="3.8" fill="#000"/>
<rect x="241.8" y="303.8" width="3.7" height="3.6" fill="#000"/>
<rect x="241.8" y="314.3" width="3.7" height="3.8" fill="#000"/>
<rect x="247.6" y="303.8" width="3.7" height="3.6" fill="#000"/>
<rect x="247.6" y="314.3" width="3.7" height="3.8" fill="#000"/>
<rect x="253.4" y="303.8" width="3.7" height="3.6" fill="#000"/>
<rect x="253.4" y="314.3" width="3.7" height="3.8" fill="#000"/>
<text transform="translate(238.5 301.4) scale(1.07 1)" font-size="8.1" fill="#17961a" stroke="#17961a" stroke-width="0.3" text-anchor="start" letter-spacing="0.3" >R52</text>
<rect x="262.3" y="317.2" width="32.4" height="14.1" fill="#000"/>
<rect x="328.1" y="317.2" width="33.4" height="14.1" fill="#000"/>
<path d="M273.5 314.5 L273.5 301.4 L284.9 290.2 L349.7 290.2 L349.7 314.5" fill="none" stroke="#17961a" stroke-width="1.7" />
<path d="M273.5 334 L273.5 347.5 L284.9 358.6 L349.7 358.6 L349.7 334" fill="none" stroke="#17961a" stroke-width="1.7" />
<circle cx="267.6" cy="312.2" r="2.4" fill="#17961a"/>
<text transform="translate(305 288.3) scale(1.07 1)" font-size="8.1" fill="#17961a" stroke="#17961a" stroke-width="0.3" text-anchor="start" letter-spacing="0.3" >C19</text>
<rect x="120.8" y="346.6" width="20" height="5.9" fill="#000"/>
<rect x="158.5" y="346.6" width="5.9" height="5.9" fill="#000"/>
<rect x="202.3" y="346.6" width="9.3" height="5.9" fill="#000"/>
<path d="M142.4 345.7 L156.5 345.7" fill="none" stroke="#17961a" stroke-width="1.9" />
<path d="M166.4 345.7 L200.5 345.7" fill="none" stroke="#17961a" stroke-width="1.9" />
<path d="M213.5 345.7 L241.2 345.7 L241.2 351.5" fill="none" stroke="#17961a" stroke-width="1.9" />
<path d="M122.8 355 L122.8 426.2" fill="none" stroke="#17961a" stroke-width="1.9" />
<rect x="120.8" y="431.8" width="14.2" height="11.8" fill="#000"/>
<rect x="120.8" y="428.5" width="3.2" height="3.5" fill="#000"/>
<path d="M135 438.6 L241.6 438.6" fill="none" stroke="#17961a" stroke-width="1.9" />
<path d="M241.4 427.5 L241.4 437" fill="none" stroke="#17961a" stroke-width="2.2" />
<rect x="234.4" y="354.1" width="8.2" height="4" fill="#000"/>
<rect x="234.4" y="361.4" width="8.2" height="4" fill="#000"/>
<rect x="234.4" y="368.6" width="8.2" height="4" fill="#000"/>
<rect x="234.4" y="375.9" width="8.2" height="4" fill="#000"/>
<rect x="234.4" y="383.1" width="8.2" height="4" fill="#000"/>
<rect x="234.4" y="390.4" width="8.2" height="4" fill="#000"/>
<rect x="234.4" y="397.6" width="8.2" height="4" fill="#000"/>
<rect x="234.4" y="404.9" width="8.2" height="4" fill="#000"/>
<rect x="234.4" y="412.1" width="8.2" height="4" fill="#000"/>
<rect x="234.4" y="420.9" width="8.2" height="6.3" fill="#000"/>
<path d="M127 337 v8.4 M122.8 341.2 h8.4" stroke="#8a8a8a" stroke-width="1.8" fill="none"/>
<text transform="translate(180 343.5) scale(1.07 1)" font-size="8.1" fill="#17961a" stroke="#17961a" stroke-width="0.3" text-anchor="start" letter-spacing="0.3" >J1</text>
<rect x="248.5" y="352.1" width="11.2" height="8.3" fill="#000"/>
<rect x="248.5" y="364.7" width="11.2" height="8.3" fill="#000"/>
<text transform="translate(247.5 366.5) rotate(-90) scale(1.00 1)" font-size="8.5" fill="#17961a" stroke="#17961a" stroke-width="0.3" text-anchor="start" letter-spacing="0.3" >R1</text>
<rect x="249.9" y="379.6" width="10.4" height="8.3" fill="#000"/>
<rect x="249.9" y="392.2" width="10.4" height="8.3" fill="#000"/>
<text transform="translate(247.5 395.5) rotate(-90) scale(1.00 1)" font-size="8.5" fill="#17961a" stroke="#17961a" stroke-width="0.3" text-anchor="start" letter-spacing="0.3" >R2</text>
<rect x="271.1" y="371.2" width="10.8" height="8.4" fill="#000"/>
<rect x="271.1" y="383.9" width="10.8" height="8.4" fill="#000"/>
<text transform="translate(269 387.5) rotate(-90) scale(1.00 1)" font-size="8.5" fill="#17961a" stroke="#17961a" stroke-width="0.3" text-anchor="start" letter-spacing="0.3" >R4</text>
<rect x="246" y="408.5" width="9.3" height="9.3" fill="#000"/>
<rect x="260.3" y="408.5" width="9.3" height="9.3" fill="#000"/>
<text transform="translate(252 407) scale(1.07 1)" font-size="8.1" fill="#17961a" stroke="#17961a" stroke-width="0.3" text-anchor="start" letter-spacing="0.3" >R3</text>
<rect x="246" y="427.3" width="9.3" height="9.3" fill="#000"/>
<rect x="260.3" y="427.3" width="9.3" height="9.3" fill="#000"/>
<text transform="translate(252 426) scale(1.07 1)" font-size="8.1" fill="#17961a" stroke="#17961a" stroke-width="0.3" text-anchor="start" letter-spacing="0.3" >C1</text>
<rect x="273.1" y="413" width="10.8" height="8.6" fill="#000"/>
<rect x="273.1" y="425.9" width="10.8" height="8.6" fill="#000"/>
<text transform="translate(271.5 429) rotate(-90) scale(1.00 1)" font-size="8.5" fill="#17961a" stroke="#17961a" stroke-width="0.3" text-anchor="start" letter-spacing="0.3" >C2</text>
<path d="M273.5 410.5 L284 410.5" fill="none" stroke="#17961a" stroke-width="1.5" />
<rect x="246.4" y="442.6" width="9.3" height="9.3" fill="#000"/>
<rect x="260.7" y="442.6" width="9.3" height="9.3" fill="#000"/>
<text transform="translate(252 441.5) scale(1.07 1)" font-size="8.1" fill="#17961a" stroke="#17961a" stroke-width="0.3" text-anchor="start" letter-spacing="0.3" >C12</text>
<path d="M272.5 443 L272.5 452" fill="none" stroke="#17961a" stroke-width="1.5" />
<rect x="349.7" y="361.7" width="71.2" height="69" fill="#000"/>
<path d="M349.7 362.4 L326.8 362.4 L326.8 430 L349.7 430" fill="none" stroke="#17961a" stroke-width="1.6" />
<rect x="295.1" y="375.1" width="28.7" height="9.4" fill="#000"/>
<rect x="295.1" y="408.5" width="28.7" height="9.2" fill="#000"/>
<circle cx="297.7" cy="371.2" r="1.1" fill="#17961a"/>
<text transform="translate(352 360.2) scale(1.07 1)" font-size="8.1" fill="#17961a" stroke="#17961a" stroke-width="0.3" text-anchor="start" letter-spacing="0.3" >U11</text>
<rect x="394.3" y="309.3" width="4.6" height="3.5" fill="#000"/>
<rect x="406.1" y="309.3" width="4.6" height="3.5" fill="#000"/>
<rect x="394.3" y="314.7" width="4.6" height="3.5" fill="#000"/>
<rect x="406.1" y="314.7" width="4.6" height="3.5" fill="#000"/>
<rect x="394.3" y="320" width="4.6" height="3.5" fill="#000"/>
<rect x="406.1" y="320" width="4.6" height="3.5" fill="#000"/>
<rect x="394.3" y="325" width="4.6" height="3.5" fill="#000"/>
<rect x="406.1" y="325" width="4.6" height="3.5" fill="#000"/>
<text transform="translate(391.5 326.5) rotate(-90) scale(1.00 1)" font-size="8.5" fill="#17961a" stroke="#17961a" stroke-width="0.3" text-anchor="start" letter-spacing="0.3" >R62</text>
<rect x="557.3" y="294.6" width="4.6" height="3.5" fill="#000"/>
<rect x="569.1" y="294.6" width="4.6" height="3.5" fill="#000"/>
<rect x="557.3" y="300" width="4.6" height="3.5" fill="#000"/>
<rect x="569.1" y="300" width="4.6" height="3.5" fill="#000"/>
<rect x="557.3" y="305.3" width="4.6" height="3.5" fill="#000"/>
<rect x="569.1" y="305.3" width="4.6" height="3.5" fill="#000"/>
<rect x="557.3" y="310.3" width="4.6" height="3.5" fill="#000"/>
<rect x="569.1" y="310.3" width="4.6" height="3.5" fill="#000"/>
<text transform="translate(555 311.5) rotate(-90) scale(1.00 1)" font-size="8.5" fill="#17961a" stroke="#17961a" stroke-width="0.3" text-anchor="start" letter-spacing="0.3" >R69</text>
<rect x="666.2" y="301.4" width="4.6" height="3.5" fill="#000"/>
<rect x="677.6" y="301.4" width="4.6" height="3.5" fill="#000"/>
<rect x="666.2" y="306.7" width="4.6" height="3.5" fill="#000"/>
<rect x="677.6" y="306.7" width="4.6" height="3.5" fill="#000"/>
<rect x="666.2" y="311.9" width="4.6" height="3.5" fill="#000"/>
<rect x="677.6" y="311.9" width="4.6" height="3.5" fill="#000"/>
<rect x="666.2" y="317.2" width="4.6" height="3.5" fill="#000"/>
<rect x="677.6" y="317.2" width="4.6" height="3.5" fill="#000"/>
<text transform="translate(663.5 319) rotate(-90) scale(1.00 1)" font-size="8.5" fill="#17961a" stroke="#17961a" stroke-width="0.3" text-anchor="start" letter-spacing="0.3" >R78</text>
<text x="364.5" y="344.7" font-size="19.5" fill="#8c8c8c" letter-spacing="1.3" textLength="184" lengthAdjust="spacingAndGlyphs">Selena Compact</text>
<text x="464" y="367.8" font-size="19.5" fill="#8c8c8c" textLength="67" lengthAdjust="spacing">v2.0.2</text>
<rect x="454.3" y="295.5" width="55.2" height="15.5" fill="#4a7fcb" stroke="#17961a" stroke-width="1.8"/>
<ellipse cx="463.6" cy="303.6" rx="5.3" ry="4.8" fill="#000"/>
<ellipse cx="463.6" cy="303.6" rx="3.4" ry="3.1" fill="#fff"/>
<ellipse cx="481.8" cy="303.6" rx="5.3" ry="4.8" fill="#000"/>
<ellipse cx="481.8" cy="303.6" rx="3.4" ry="3.1" fill="#fff"/>
<rect x="495.2" y="298.6" width="10.6" height="10" fill="#000"/>
<ellipse cx="500.5" cy="303.6" rx="3.4" ry="3.1" fill="#fff"/>
<text transform="translate(481 293) scale(1.07 1)" font-size="8.1" fill="#17961a" stroke="#17961a" stroke-width="0.3" text-anchor="start" letter-spacing="0.3" >J2</text>
<rect x="596.8" y="321.7" width="9.3" height="9.3" fill="#000"/>
<rect x="611.1" y="321.7" width="9.3" height="9.3" fill="#000"/>
<text transform="translate(601.5 320.3) scale(1.07 1)" font-size="8.1" fill="#17961a" stroke="#17961a" stroke-width="0.3" text-anchor="start" letter-spacing="0.3" >R17</text>
<rect x="592.5" y="340" width="37" height="15.6" fill="none" stroke="#17961a" stroke-width="1.9"/>
<ellipse cx="601.1" cy="348" rx="5.3" ry="4.8" fill="#000"/>
<ellipse cx="601.1" cy="348" rx="3.4" ry="3.1" fill="#fff"/>
<rect x="614.5" y="343" width="10.6" height="10" fill="#000"/>
<ellipse cx="619.8" cy="348" rx="3.4" ry="3.1" fill="#fff"/>
<text transform="translate(598.5 338) scale(1.07 1)" font-size="7.6" fill="#17961a" stroke="#17961a" stroke-width="0.3" text-anchor="start" letter-spacing="0.2" >IBOOT</text>
<rect x="658.2" y="326.5" width="17.6" height="48.7" fill="#4a7fcb" stroke="#17961a" stroke-width="1.8"/>
<ellipse cx="667.2" cy="334.2" rx="5.3" ry="4.8" fill="#000"/>
<ellipse cx="667.2" cy="334.2" rx="3.4" ry="3.1" fill="#fff"/>
<ellipse cx="667.2" cy="351" rx="5.3" ry="4.8" fill="#000"/>
<ellipse cx="667.2" cy="351" rx="3.4" ry="3.1" fill="#fff"/>
<rect x="661.9" y="362.6" width="10.6" height="10" fill="#000"/>
<ellipse cx="667.2" cy="367.6" rx="3.4" ry="3.1" fill="#fff"/>
<text transform="translate(661 324) scale(1.07 1)" font-size="8.1" fill="#17961a" stroke="#17961a" stroke-width="0.3" text-anchor="start" letter-spacing="0.3" >J5</text>
<rect x="697.4" y="327.8" width="74.2" height="31.8" fill="none" stroke="#17961a" stroke-width="1.6"/>
<ellipse cx="706.4" cy="335.2" rx="5.6" ry="5" fill="#000"/>
<ellipse cx="706.4" cy="335.2" rx="3.9" ry="3.4" fill="#fff"/>
<ellipse cx="706.4" cy="352.1" rx="5.6" ry="5" fill="#000"/>
<ellipse cx="706.4" cy="352.1" rx="3.9" ry="3.4" fill="#fff"/>
<ellipse cx="725.1" cy="335.2" rx="5.6" ry="5" fill="#000"/>
<ellipse cx="725.1" cy="335.2" rx="3.9" ry="3.4" fill="#fff"/>
<ellipse cx="725.1" cy="352.1" rx="5.6" ry="5" fill="#000"/>
<ellipse cx="725.1" cy="352.1" rx="3.9" ry="3.4" fill="#fff"/>
<ellipse cx="744.2" cy="335.2" rx="5.6" ry="5" fill="#000"/>
<ellipse cx="744.2" cy="335.2" rx="3.9" ry="3.4" fill="#fff"/>
<ellipse cx="744.2" cy="352.1" rx="5.6" ry="5" fill="#000"/>
<ellipse cx="744.2" cy="352.1" rx="3.9" ry="3.4" fill="#fff"/>
<ellipse cx="762.8" cy="335.2" rx="5.6" ry="5" fill="#000"/>
<ellipse cx="762.8" cy="335.2" rx="3.9" ry="3.4" fill="#fff"/>
<ellipse cx="762.8" cy="352.1" rx="5.6" ry="5" fill="#000"/>
<ellipse cx="762.8" cy="352.1" rx="3.9" ry="3.4" fill="#fff"/>
<rect x="700" y="346" width="13" height="12.2" fill="none" stroke="#17961a" stroke-width="1.3"/>
<text transform="translate(722 325.5) scale(1.07 1)" font-size="8.1" fill="#17961a" stroke="#17961a" stroke-width="0.3" text-anchor="start" letter-spacing="0.3" >AUX1</text>
<rect x="530.2" y="382.8" width="95.2" height="85.2" fill="none" stroke="#17961a" stroke-width="1.7"/>
<path d="M530 463.4 L536.6 468.6 L530 468.6 Z" fill="#17961a" stroke="#17961a" stroke-width="0.5" />
<rect x="536.3" y="369.2" width="2.1" height="10.2" fill="#000"/>
<rect x="532.6" y="471.5" width="2.1" height="10.4" fill="#000"/>
<rect x="515.4" y="385.3" width="11.6" height="1.9" fill="#000"/>
<rect x="628.6" y="385.3" width="11.6" height="1.9" fill="#000"/>
<rect x="539.8" y="369.2" width="2.1" height="10.2" fill="#000"/>
<rect x="536.2" y="471.5" width="2.1" height="10.4" fill="#000"/>
<rect x="515.4" y="388.6" width="11.6" height="1.9" fill="#000"/>
<rect x="628.6" y="388.6" width="11.6" height="1.9" fill="#000"/>
<rect x="543.3" y="369.2" width="2.1" height="10.2" fill="#000"/>
<rect x="539.9" y="471.5" width="2.1" height="10.4" fill="#000"/>
<rect x="515.4" y="391.8" width="11.6" height="1.9" fill="#000"/>
<rect x="628.6" y="391.8" width="11.6" height="1.9" fill="#000"/>
<rect x="546.8" y="369.2" width="2.1" height="10.2" fill="#000"/>
<rect x="543.5" y="471.5" width="2.1" height="10.4" fill="#000"/>
<rect x="515.4" y="395.1" width="11.6" height="1.9" fill="#000"/>
<rect x="628.6" y="395.1" width="11.6" height="1.9" fill="#000"/>
<rect x="550.3" y="369.2" width="2.1" height="10.2" fill="#000"/>
<rect x="547.1" y="471.5" width="2.1" height="10.4" fill="#000"/>
<rect x="515.4" y="398.4" width="11.6" height="1.9" fill="#000"/>
<rect x="628.6" y="398.4" width="11.6" height="1.9" fill="#000"/>
<rect x="553.8" y="369.2" width="2.1" height="10.2" fill="#000"/>
<rect x="550.8" y="471.5" width="2.1" height="10.4" fill="#000"/>
<rect x="515.4" y="401.7" width="11.6" height="1.9" fill="#000"/>
<rect x="628.6" y="401.7" width="11.6" height="1.9" fill="#000"/>
<rect x="557.3" y="369.2" width="2.1" height="10.2" fill="#000"/>
<rect x="554.4" y="471.5" width="2.1" height="10.4" fill="#000"/>
<rect x="515.4" y="404.9" width="11.6" height="1.9" fill="#000"/>
<rect x="628.6" y="404.9" width="11.6" height="1.9" fill="#000"/>
<rect x="560.8" y="369.2" width="2.1" height="10.2" fill="#000"/>
<rect x="558" y="471.5" width="2.1" height="10.4" fill="#000"/>
<rect x="515.4" y="408.2" width="11.6" height="1.9" fill="#000"/>
<rect x="628.6" y="408.2" width="11.6" height="1.9" fill="#000"/>
<rect x="564.3" y="369.2" width="2.1" height="10.2" fill="#000"/>
<rect x="561.6" y="471.5" width="2.1" height="10.4" fill="#000"/>
<rect x="515.4" y="411.5" width="11.6" height="1.9" fill="#000"/>
<rect x="628.6" y="411.5" width="11.6" height="1.9" fill="#000"/>
<rect x="567.8" y="369.2" width="2.1" height="10.2" fill="#000"/>
<rect x="565.3" y="471.5" width="2.1" height="10.4" fill="#000"/>
<rect x="515.4" y="414.7" width="11.6" height="1.9" fill="#000"/>
<rect x="628.6" y="414.7" width="11.6" height="1.9" fill="#000"/>
<rect x="571.3" y="369.2" width="2.1" height="10.2" fill="#000"/>
<rect x="568.9" y="471.5" width="2.1" height="10.4" fill="#000"/>
<rect x="515.4" y="418" width="11.6" height="1.9" fill="#000"/>
<rect x="628.6" y="418" width="11.6" height="1.9" fill="#000"/>
<rect x="574.8" y="369.2" width="2.1" height="10.2" fill="#000"/>
<rect x="572.5" y="471.5" width="2.1" height="10.4" fill="#000"/>
<rect x="515.4" y="421.3" width="11.6" height="1.9" fill="#000"/>
<rect x="628.6" y="421.3" width="11.6" height="1.9" fill="#000"/>
<rect x="578.3" y="369.2" width="2.1" height="10.2" fill="#000"/>
<rect x="576.2" y="471.5" width="2.1" height="10.4" fill="#000"/>
<rect x="515.4" y="424.5" width="11.6" height="1.9" fill="#000"/>
<rect x="628.6" y="424.5" width="11.6" height="1.9" fill="#000"/>
<rect x="581.8" y="369.2" width="2.1" height="10.2" fill="#000"/>
<rect x="579.8" y="471.5" width="2.1" height="10.4" fill="#000"/>
<rect x="515.4" y="427.8" width="11.6" height="1.9" fill="#000"/>
<rect x="628.6" y="427.8" width="11.6" height="1.9" fill="#000"/>
<rect x="585.3" y="369.2" width="2.1" height="10.2" fill="#000"/>
<rect x="583.4" y="471.5" width="2.1" height="10.4" fill="#000"/>
<rect x="515.4" y="431.1" width="11.6" height="1.9" fill="#000"/>
<rect x="628.6" y="431.1" width="11.6" height="1.9" fill="#000"/>
<rect x="588.8" y="369.2" width="2.1" height="10.2" fill="#000"/>
<rect x="587.1" y="471.5" width="2.1" height="10.4" fill="#000"/>
<rect x="515.4" y="434.4" width="11.6" height="1.9" fill="#000"/>
<rect x="628.6" y="434.4" width="11.6" height="1.9" fill="#000"/>
<rect x="592.3" y="369.2" width="2.1" height="10.2" fill="#000"/>
<rect x="590.7" y="471.5" width="2.1" height="10.4" fill="#000"/>
<rect x="515.4" y="437.6" width="11.6" height="1.9" fill="#000"/>
<rect x="628.6" y="437.6" width="11.6" height="1.9" fill="#000"/>
<rect x="595.8" y="369.2" width="2.1" height="10.2" fill="#000"/>
<rect x="594.3" y="471.5" width="2.1" height="10.4" fill="#000"/>
<rect x="515.4" y="440.9" width="11.6" height="1.9" fill="#000"/>
<rect x="628.6" y="440.9" width="11.6" height="1.9" fill="#000"/>
<rect x="599.3" y="369.2" width="2.1" height="10.2" fill="#000"/>
<rect x="597.9" y="471.5" width="2.1" height="10.4" fill="#000"/>
<rect x="515.4" y="444.2" width="11.6" height="1.9" fill="#000"/>
<rect x="628.6" y="444.2" width="11.6" height="1.9" fill="#000"/>
<rect x="602.8" y="369.2" width="2.1" height="10.2" fill="#000"/>
<rect x="601.6" y="471.5" width="2.1" height="10.4" fill="#000"/>
<rect x="515.4" y="447.4" width="11.6" height="1.9" fill="#000"/>
<rect x="628.6" y="447.4" width="11.6" height="1.9" fill="#000"/>
<rect x="606.3" y="369.2" width="2.1" height="10.2" fill="#000"/>
<rect x="605.2" y="471.5" width="2.1" height="10.4" fill="#000"/>
<rect x="515.4" y="450.7" width="11.6" height="1.9" fill="#000"/>
<rect x="628.6" y="450.7" width="11.6" height="1.9" fill="#000"/>
<rect x="609.8" y="369.2" width="2.1" height="10.2" fill="#000"/>
<rect x="608.8" y="471.5" width="2.1" height="10.4" fill="#000"/>
<rect x="515.4" y="454" width="11.6" height="1.9" fill="#000"/>
<rect x="628.6" y="454" width="11.6" height="1.9" fill="#000"/>
<rect x="613.3" y="369.2" width="2.1" height="10.2" fill="#000"/>
<rect x="612.5" y="471.5" width="2.1" height="10.4" fill="#000"/>
<rect x="515.4" y="457.2" width="11.6" height="1.9" fill="#000"/>
<rect x="628.6" y="457.2" width="11.6" height="1.9" fill="#000"/>
<rect x="616.8" y="369.2" width="2.1" height="10.2" fill="#000"/>
<rect x="616.1" y="471.5" width="2.1" height="10.4" fill="#000"/>
<rect x="515.4" y="460.5" width="11.6" height="1.9" fill="#000"/>
<rect x="628.6" y="460.5" width="11.6" height="1.9" fill="#000"/>
<rect x="620.3" y="369.2" width="2.1" height="10.2" fill="#000"/>
<rect x="619.7" y="471.5" width="2.1" height="10.4" fill="#000"/>
<rect x="515.4" y="463.8" width="11.6" height="1.9" fill="#000"/>
<rect x="628.6" y="463.8" width="11.6" height="1.9" fill="#000"/>
<circle cx="528.4" cy="477" r="1" fill="#17961a"/>
<text transform="translate(574 366.5) scale(1.07 1)" font-size="8.1" fill="#17961a" stroke="#17961a" stroke-width="0.3" text-anchor="start" letter-spacing="0.3" >U1</text>
<rect x="441.8" y="405.4" width="45.6" height="41" fill="#6aa3dc" stroke="#17961a" stroke-width="1.7"/>
<path d="M459.8 447.3 a4.8 3.6 0 0 1 9.6 0 z" fill="#fff" stroke="#17961a" stroke-width="1.2"/>
<rect x="433.2" y="413" width="14.2" height="4.6" fill="#000"/>
<rect x="482.2" y="413" width="14.2" height="4.6" fill="#000"/>
<rect x="433.2" y="421.4" width="14.2" height="4.6" fill="#000"/>
<rect x="482.2" y="421.4" width="14.2" height="4.6" fill="#000"/>
<rect x="433.2" y="429.9" width="14.2" height="4.6" fill="#000"/>
<rect x="482.2" y="429.9" width="14.2" height="4.6" fill="#000"/>
<rect x="433.2" y="438.4" width="14.2" height="4.6" fill="#000"/>
<rect x="482.2" y="438.4" width="14.2" height="4.6" fill="#000"/>
<text transform="translate(459 403) scale(1.07 1)" font-size="8.1" fill="#17961a" stroke="#17961a" stroke-width="0.3" text-anchor="start" letter-spacing="0.3" >S1</text>
<text transform="translate(438.3 382.5) rotate(-90) scale(1.00 1)" font-size="8.5" fill="#17961a" stroke="#17961a" stroke-width="0.3" text-anchor="start" letter-spacing="0.3" >C5</text>
<rect x="441.5" y="365.3" width="10.5" height="8.7" fill="#000"/>
<rect x="441.5" y="377.3" width="10.5" height="8.7" fill="#000"/>
<rect x="465" y="365.3" width="10.5" height="8.7" fill="#000"/>
<rect x="465" y="377.3" width="10.5" height="8.7" fill="#000"/>
<path d="M442 389 L452 389" fill="none" stroke="#17961a" stroke-width="1.3" />
<path d="M465.5 389 L475.5 389" fill="none" stroke="#17961a" stroke-width="1.3" />
<text transform="translate(723.5 374.5) scale(1.07 1)" font-size="8.1" fill="#17961a" stroke="#17961a" stroke-width="0.3" text-anchor="start" letter-spacing="0.3" >U2</text>
<text transform="translate(747 374.5) scale(1.07 1)" font-size="8.1" fill="#17961a" stroke="#17961a" stroke-width="0.3" text-anchor="start" letter-spacing="0.3" >U3</text>
<text transform="translate(772 374.5) scale(1.07 1)" font-size="8.1" fill="#17961a" stroke="#17961a" stroke-width="0.3" text-anchor="start" letter-spacing="0.3" >U4</text>
<rect x="749" y="377" width="2.6" height="5" fill="#000"/>
<rect x="749" y="392.2" width="2.6" height="5.2" fill="#000"/>
<rect x="753.2" y="377" width="2.6" height="5" fill="#000"/>
<rect x="753.2" y="392.2" width="2.6" height="5.2" fill="#000"/>
<rect x="757.4" y="377" width="2.6" height="5" fill="#000"/>
<rect x="757.4" y="392.2" width="2.6" height="5.2" fill="#000"/>
<rect x="746.4" y="385.4" width="17.2" height="4.2" fill="none" stroke="#17961a" stroke-width="1.2"/>
<rect x="774" y="377" width="2.6" height="5" fill="#000"/>
<rect x="774" y="392.2" width="2.6" height="5.2" fill="#000"/>
<rect x="778.2" y="377" width="2.6" height="5" fill="#000"/>
<rect x="778.2" y="392.2" width="2.6" height="5.2" fill="#000"/>
<rect x="782.4" y="377" width="2.6" height="5" fill="#000"/>
<rect x="782.4" y="392.2" width="2.6" height="5.2" fill="#000"/>
<rect x="771.4" y="385.4" width="17.2" height="4.2" fill="none" stroke="#17961a" stroke-width="1.2"/>
<rect x="725.4" y="377" width="2.6" height="5" fill="#000"/>
<rect x="725.4" y="392.2" width="2.6" height="5.2" fill="#000"/>
<rect x="729.6" y="377" width="2.6" height="5" fill="#000"/>
<rect x="729.6" y="392.2" width="2.6" height="5.2" fill="#000"/>
<rect x="733.8" y="377" width="2.6" height="5" fill="#000"/>
<rect x="733.8" y="392.2" width="2.6" height="5.2" fill="#000"/>
<rect x="722.8" y="385.4" width="17.2" height="4.2" fill="none" stroke="#17961a" stroke-width="1.2"/>
<circle cx="721.5" cy="396.5" r="0.9" fill="#17961a"/>
<rect x="662.2" y="383.6" width="9.3" height="9.3" fill="#000"/>
<rect x="676.5" y="383.6" width="9.3" height="9.3" fill="#000"/>
<text transform="translate(666 381.5) scale(1.07 1)" font-size="8.1" fill="#17961a" stroke="#17961a" stroke-width="0.3" text-anchor="start" letter-spacing="0.3" >R32</text>
<path d="M663 395.8 L673 395.8" fill="none" stroke="#17961a" stroke-width="1.4" />
<rect x="689.7" y="375.5" width="10.9" height="8.5" fill="#000"/>
<rect x="689.7" y="388.3" width="10.9" height="8.5" fill="#000"/>
<text transform="translate(688 392.5) rotate(-90) scale(1.00 1)" font-size="8.5" fill="#17961a" stroke="#17961a" stroke-width="0.3" text-anchor="start" letter-spacing="0.3" >R33</text>
<rect x="662.8" y="398.7" width="10.2" height="8.4" fill="#000"/>
<rect x="662.8" y="411.4" width="10.2" height="8.4" fill="#000"/>
<text transform="translate(660.5 416) rotate(-90) scale(1.00 1)" font-size="8.5" fill="#17961a" stroke="#17961a" stroke-width="0.3" text-anchor="start" letter-spacing="0.3" >C24</text>
<rect x="690.3" y="399.7" width="10.3" height="8.4" fill="#000"/>
<rect x="690.3" y="412.4" width="10.3" height="8.4" fill="#000"/>
<text transform="translate(688 417) rotate(-90) scale(1.00 1)" font-size="8.5" fill="#17961a" stroke="#17961a" stroke-width="0.3" text-anchor="start" letter-spacing="0.3" >R39</text>
<rect x="663.2" y="423" width="10.2" height="8.4" fill="#000"/>
<rect x="663.2" y="435.7" width="10.2" height="8.4" fill="#000"/>
<text transform="translate(660.5 442) rotate(-90) scale(1.00 1)" font-size="8.5" fill="#17961a" stroke="#17961a" stroke-width="0.3" text-anchor="start" letter-spacing="0.3" >C25</text>
<path d="M663.5 446.5 L673.5 446.5" fill="none" stroke="#17961a" stroke-width="1.4" />
<rect x="681.9" y="437.3" width="9.3" height="9.3" fill="#000"/>
<rect x="696.2" y="437.3" width="9.3" height="9.3" fill="#000"/>
<text transform="translate(685.8 435.5) scale(1.07 1)" font-size="8.1" fill="#17961a" stroke="#17961a" stroke-width="0.3" text-anchor="start" letter-spacing="0.3" >R36</text>
<rect x="681.9" y="462.3" width="9.3" height="9.3" fill="#000"/>
<rect x="696.2" y="462.3" width="9.3" height="9.3" fill="#000"/>
<text transform="translate(685.5 460.5) scale(1.07 1)" font-size="8.1" fill="#17961a" stroke="#17961a" stroke-width="0.3" text-anchor="start" letter-spacing="0.3" >R42</text>
<path d="M663.5 477 L673.5 477" fill="none" stroke="#17961a" stroke-width="1.4" />
<rect x="663.2" y="479.9" width="10.2" height="8.5" fill="#000"/>
<rect x="663.2" y="492.7" width="10.2" height="8.5" fill="#000"/>
<text transform="translate(660.5 497.5) rotate(-90) scale(1.00 1)" font-size="8.5" fill="#17961a" stroke="#17961a" stroke-width="0.3" text-anchor="start" letter-spacing="0.3" >C32</text>
<rect x="695.2" y="479.9" width="10.7" height="8.5" fill="#000"/>
<rect x="695.2" y="492.7" width="10.7" height="8.5" fill="#000"/>
<text transform="translate(693 498) rotate(-90) scale(1.00 1)" font-size="8.5" fill="#17961a" stroke="#17961a" stroke-width="0.3" text-anchor="start" letter-spacing="0.3" >R43</text>
<rect x="680.9" y="515.4" width="9.3" height="9.3" fill="#000"/>
<rect x="695.2" y="515.4" width="9.3" height="9.3" fill="#000"/>
<text transform="translate(684.5 513.5) scale(1.07 1)" font-size="8.1" fill="#17961a" stroke="#17961a" stroke-width="0.3" text-anchor="start" letter-spacing="0.3" >R56</text>
<path d="M662 530 L672.5 530" fill="none" stroke="#17961a" stroke-width="1.4" />
<rect x="661.8" y="533" width="10.7" height="8.3" fill="#000"/>
<rect x="661.8" y="545.6" width="10.7" height="8.3" fill="#000"/>
<text transform="translate(659.5 551) rotate(-90) scale(1.00 1)" font-size="8.5" fill="#17961a" stroke="#17961a" stroke-width="0.3" text-anchor="start" letter-spacing="0.3" >C42</text>
<rect x="694.3" y="533" width="10.8" height="8.3" fill="#000"/>
<rect x="694.3" y="545.6" width="10.8" height="8.3" fill="#000"/>
<text transform="translate(692 551.5) rotate(-90) scale(1.00 1)" font-size="8.5" fill="#17961a" stroke="#17961a" stroke-width="0.3" text-anchor="start" letter-spacing="0.3" >R59</text>
<rect x="663.2" y="562.5" width="10.4" height="8.6" fill="#000"/>
<rect x="663.2" y="575.4" width="10.4" height="8.6" fill="#000"/>
<text transform="translate(660.5 583) rotate(-90) scale(1.00 1)" font-size="8.5" fill="#17961a" stroke="#17961a" stroke-width="0.3" text-anchor="start" letter-spacing="0.3" >C44</text>
<path d="M663.5 586.8 L673.8 586.8" fill="none" stroke="#17961a" stroke-width="1.4" />
<rect x="681.9" y="574.8" width="9.3" height="9.3" fill="#000"/>
<rect x="696.2" y="574.8" width="9.3" height="9.3" fill="#000"/>
<text transform="translate(686 573) scale(1.07 1)" font-size="8.1" fill="#17961a" stroke="#17961a" stroke-width="0.3" text-anchor="start" letter-spacing="0.3" >R72</text>
<rect x="662.8" y="595.3" width="11" height="8.7" fill="#000"/>
<rect x="662.8" y="608.3" width="11" height="8.7" fill="#000"/>
<text transform="translate(660.5 611) rotate(-90) scale(1.00 1)" font-size="8.5" fill="#17961a" stroke="#17961a" stroke-width="0.3" text-anchor="start" letter-spacing="0.3" >C8</text>
<path d="M663 619.4 L674 619.4" fill="none" stroke="#17961a" stroke-width="1.4" />
<rect x="694.3" y="593" width="10.7" height="8.7" fill="#000"/>
<rect x="694.3" y="606" width="10.7" height="8.7" fill="#000"/>
<text transform="translate(692 611.5) rotate(-90) scale(1.00 1)" font-size="8.5" fill="#17961a" stroke="#17961a" stroke-width="0.3" text-anchor="start" letter-spacing="0.3" >R75</text>
<rect x="684.5" y="634.8" width="9.3" height="9.3" fill="#000"/>
<rect x="698.8" y="634.8" width="9.3" height="9.3" fill="#000"/>
<text transform="translate(688 633) scale(1.07 1)" font-size="8.1" fill="#17961a" stroke="#17961a" stroke-width="0.3" text-anchor="start" letter-spacing="0.3" >R46</text>
<rect x="728.2" y="414" width="55.4" height="15.6" fill="#ff9838" stroke="#17961a" stroke-width="1.8"/>
<rect x="731.6" y="416.9" width="10.6" height="10" fill="#000"/>
<ellipse cx="736.9" cy="421.9" rx="3.4" ry="3.1" fill="#fff"/>
<ellipse cx="755.6" cy="421.9" rx="5.3" ry="4.8" fill="#000"/>
<ellipse cx="755.6" cy="421.9" rx="3.4" ry="3.1" fill="#fff"/>
<ellipse cx="774.2" cy="421.9" rx="5.3" ry="4.8" fill="#000"/>
<ellipse cx="774.2" cy="421.9" rx="3.4" ry="3.1" fill="#fff"/>
<text transform="translate(733.5 411.2) scale(1.07 1)" font-size="7.6" fill="#17961a" stroke="#17961a" stroke-width="0.3" text-anchor="start" letter-spacing="0.5" >+5+3v3sel</text>
<rect x="718" y="442.6" width="73.5" height="37.4" fill="#ff9838"/>
<path d="M731.5 442.6 L718 442.6 L718 480 L791.5 480 L791.5 442.6 L778 442.6" fill="none" stroke="#17961a" stroke-width="1.8" />
<rect x="729.9" y="452.7" width="10.6" height="10" fill="#000"/>
<ellipse cx="735.2" cy="457.7" rx="3.4" ry="3.1" fill="#fff"/>
<ellipse cx="754" cy="457.7" rx="5.3" ry="4.8" fill="#000"/>
<ellipse cx="754" cy="457.7" rx="3.4" ry="3.1" fill="#fff"/>
<ellipse cx="772.7" cy="457.7" rx="5.3" ry="4.8" fill="#000"/>
<ellipse cx="772.7" cy="457.7" rx="3.4" ry="3.1" fill="#fff"/>
<text transform="translate(737.5 440) scale(1.07 1)" font-size="8.1" fill="#17961a" stroke="#17961a" stroke-width="0.3" text-anchor="start" letter-spacing="0.5" >sgvXmin</text>
<rect x="718" y="495.8" width="73.5" height="37.2" fill="#ff9838"/>
<path d="M731.5 495.8 L718 495.8 L718 533 L791.5 533 L791.5 495.8 L778 495.8" fill="none" stroke="#17961a" stroke-width="1.8" />
<rect x="729.9" y="505.8" width="10.6" height="10" fill="#000"/>
<ellipse cx="735.2" cy="510.8" rx="3.4" ry="3.1" fill="#fff"/>
<ellipse cx="754" cy="510.8" rx="5.3" ry="4.8" fill="#000"/>
<ellipse cx="754" cy="510.8" rx="3.4" ry="3.1" fill="#fff"/>
<ellipse cx="772.7" cy="510.8" rx="5.3" ry="4.8" fill="#000"/>
<ellipse cx="772.7" cy="510.8" rx="3.4" ry="3.1" fill="#fff"/>
<text transform="translate(743.5 492.8) scale(1.07 1)" font-size="8.1" fill="#17961a" stroke="#17961a" stroke-width="0.3" text-anchor="start" letter-spacing="0.5" >Xmax</text>
<rect x="718" y="548.6" width="73.5" height="36.4" fill="#ff9838"/>
<path d="M731.5 548.6 L718 548.6 L718 585 L791.5 585 L791.5 548.6 L778 548.6" fill="none" stroke="#17961a" stroke-width="1.8" />
<rect x="729.9" y="558.4" width="10.6" height="10" fill="#000"/>
<ellipse cx="735.2" cy="563.4" rx="3.4" ry="3.1" fill="#fff"/>
<ellipse cx="754" cy="563.4" rx="5.3" ry="4.8" fill="#000"/>
<ellipse cx="754" cy="563.4" rx="3.4" ry="3.1" fill="#fff"/>
<ellipse cx="772.7" cy="563.4" rx="5.3" ry="4.8" fill="#000"/>
<ellipse cx="772.7" cy="563.4" rx="3.4" ry="3.1" fill="#fff"/>
<text transform="translate(744.5 545.8) scale(1.07 1)" font-size="8.1" fill="#17961a" stroke="#17961a" stroke-width="0.3" text-anchor="start" letter-spacing="0.5" >Ymin</text>
<rect x="718" y="603.4" width="73.5" height="37.2" fill="#ff9838"/>
<path d="M731.5 603.4 L718 603.4 L718 640.6 L791.5 640.6 L791.5 603.4 L778 603.4" fill="none" stroke="#17961a" stroke-width="1.8" />
<rect x="729.9" y="613.6" width="10.6" height="10" fill="#000"/>
<ellipse cx="735.2" cy="618.6" rx="3.4" ry="3.1" fill="#fff"/>
<ellipse cx="754" cy="618.6" rx="5.3" ry="4.8" fill="#000"/>
<ellipse cx="754" cy="618.6" rx="3.4" ry="3.1" fill="#fff"/>
<ellipse cx="772.7" cy="618.6" rx="5.3" ry="4.8" fill="#000"/>
<ellipse cx="772.7" cy="618.6" rx="3.4" ry="3.1" fill="#fff"/>
<text transform="translate(743.5 600.5) scale(1.07 1)" font-size="8.1" fill="#17961a" stroke="#17961a" stroke-width="0.3" text-anchor="start" letter-spacing="0.5" >Zmin</text>
<rect x="718" y="652.4" width="90.6" height="37" fill="#fff"/>
<path d="M731.5 652.4 L718 652.4 L718 689.4 L808.6 689.4 L808.6 652.4 L795.1 652.4" fill="none" stroke="#17961a" stroke-width="1.8" />
<rect x="729.9" y="661.7" width="10.6" height="10" fill="#000"/>
<ellipse cx="735.2" cy="666.7" rx="3.4" ry="3.1" fill="#fff"/>
<ellipse cx="754" cy="666.7" rx="5.3" ry="4.8" fill="#000"/>
<ellipse cx="754" cy="666.7" rx="3.4" ry="3.1" fill="#fff"/>
<ellipse cx="772.7" cy="666.7" rx="5.3" ry="4.8" fill="#000"/>
<ellipse cx="772.7" cy="666.7" rx="3.4" ry="3.1" fill="#fff"/>
<ellipse cx="791.5" cy="666.7" rx="5.3" ry="4.8" fill="#000"/>
<ellipse cx="791.5" cy="666.7" rx="3.4" ry="3.1" fill="#fff"/>
<text transform="translate(748 649.5) scale(1.07 1)" font-size="8.1" fill="#17961a" stroke="#17961a" stroke-width="0.3" text-anchor="start" letter-spacing="0.5" >Zprobe</text>
<rect x="779.5" y="482.3" width="9.3" height="9.3" fill="#000"/>
<rect x="793.8" y="482.3" width="9.3" height="9.3" fill="#000"/>
<text transform="translate(783 480.5) scale(1.07 1)" font-size="8.1" fill="#17961a" stroke="#17961a" stroke-width="0.3" text-anchor="start" letter-spacing="0.3" >R90</text>
<path d="M122.5 460.5 L109.6 460.5 L109.6 510.6 L122.5 510.6" fill="none" stroke="#17961a" stroke-width="1.6" />
<path d="M119.6 456 L119.6 515.7" fill="none" stroke="#8a8a8a" stroke-width="0.9" />
<text transform="translate(116.5 508) rotate(-90) scale(1.00 1)" font-size="5.5" fill="#9a9a9a" stroke="#9a9a9a" stroke-width="0.3" text-anchor="start" letter-spacing="0" >DX4R0-05H8C</text>
<rect x="125.5" y="453.4" width="9.5" height="14.3" fill="#000"/>
<rect x="123.2" y="472" width="14.1" height="11.5" fill="#000"/>
<rect x="123.2" y="487.8" width="14.1" height="10.8" fill="#000"/>
<rect x="125.5" y="502.9" width="9.5" height="14.9" fill="#000"/>
<rect x="143.2" y="458.9" width="9.8" height="10.2" fill="#000"/>
<rect x="143.2" y="502.1" width="9.8" height="9.9" fill="#000"/>
<rect x="144.8" y="475.8" width="10.2" height="2.5" fill="#000"/>
<rect x="144.8" y="480.1" width="10.2" height="2.5" fill="#000"/>
<rect x="144.8" y="484.4" width="10.2" height="2.5" fill="#000"/>
<rect x="144.8" y="488.7" width="10.2" height="2.5" fill="#000"/>
<rect x="144.8" y="493" width="10.2" height="2.5" fill="#000"/>
<circle cx="139.3" cy="460.3" r="0.9" fill="#17961a"/>
<circle cx="158.3" cy="477" r="1" fill="#17961a"/>
<circle cx="139.3" cy="510.8" r="0.9" fill="#17961a"/>
<text transform="translate(127 451) scale(1.07 1)" font-size="8.1" fill="#17961a" stroke="#17961a" stroke-width="0.3" text-anchor="start" letter-spacing="0.5" >USB</text>
<rect x="160.3" y="448.1" width="17.7" height="15.5" fill="#000"/>
<rect x="192.7" y="448.1" width="17.3" height="15.5" fill="#000"/>
<path d="M168.4 446.2 L168.4 444 L202.2 444 L202.2 446.2" fill="none" stroke="#17961a" stroke-width="1.3" />
<path d="M168.4 465.2 L168.4 467.3 L202.2 467.3 L202.2 465.2" fill="none" stroke="#17961a" stroke-width="1.3" />
<circle cx="215.3" cy="455.8" r="2" fill="#17961a"/>
<text transform="translate(184.5 442.2) scale(1.07 1)" font-size="8.1" fill="#17961a" stroke="#17961a" stroke-width="0.3" text-anchor="start" letter-spacing="0.3" >F1</text>
<rect x="175" y="469.1" width="11.4" height="11.4" fill="#000"/>
<rect x="195.7" y="469.1" width="11.4" height="11.4" fill="#000"/>
<path d="M188.6 470 L192.2 470 L192.2 479.8 L188.6 479.8" fill="none" stroke="#17961a" stroke-width="2" />
<text transform="translate(186 467.5) scale(1.07 1)" font-size="8.1" fill="#17961a" stroke="#17961a" stroke-width="0.3" text-anchor="start" letter-spacing="0.3" >D9</text>
<rect x="160.9" y="495.6" width="11.4" height="11.2" fill="#000"/>
<rect x="181.5" y="495.6" width="11.4" height="11.2" fill="#000"/>
<path d="M174.6 496.4 L178.2 496.4 L178.2 506 L174.6 506" fill="none" stroke="#17961a" stroke-width="2" />
<text transform="translate(169.5 493.5) scale(1.07 1)" font-size="8.1" fill="#17961a" stroke="#17961a" stroke-width="0.3" text-anchor="start" letter-spacing="0.3" >D17</text>
<rect x="222.2" y="456.9" width="9.3" height="9.3" fill="#000"/>
<rect x="236.5" y="456.9" width="9.3" height="9.3" fill="#000"/>
<text transform="translate(227 455.3) scale(1.07 1)" font-size="8.1" fill="#17961a" stroke="#17961a" stroke-width="0.3" text-anchor="start" letter-spacing="0.3" >R15</text>
<rect x="222.2" y="472" width="9.3" height="9.3" fill="#000"/>
<rect x="236.5" y="472" width="9.3" height="9.3" fill="#000"/>
<text transform="translate(227 470.5) scale(1.07 1)" font-size="8.1" fill="#17961a" stroke="#17961a" stroke-width="0.3" text-anchor="start" letter-spacing="0.3" >R13</text>
<rect x="262.1" y="470.1" width="9.3" height="9.3" fill="#000"/>
<rect x="276.4" y="470.1" width="9.3" height="9.3" fill="#000"/>
<text transform="translate(264 468.5) scale(1.07 1)" font-size="8.1" fill="#17961a" stroke="#17961a" stroke-width="0.3" text-anchor="start" letter-spacing="0.3" >C23</text>
<path d="M258.7 470.5 L258.7 479.5" fill="none" stroke="#17961a" stroke-width="1.4" />
<path d="M291.3 470.5 L291.3 479.5" fill="none" stroke="#17961a" stroke-width="1.4" />
<rect x="294.7" y="470.1" width="9.3" height="9.3" fill="#000"/>
<rect x="309" y="470.1" width="9.3" height="9.3" fill="#000"/>
<text transform="translate(300 468.5) scale(1.07 1)" font-size="8.1" fill="#17961a" stroke="#17961a" stroke-width="0.3" text-anchor="start" letter-spacing="0.3" >C11</text>
<rect x="284.3" y="453" width="9.3" height="9.3" fill="#000"/>
<rect x="298.6" y="453" width="9.3" height="9.3" fill="#000"/>
<text transform="translate(288.5 451.3) scale(1.07 1)" font-size="8.1" fill="#17961a" stroke="#17961a" stroke-width="0.3" text-anchor="start" letter-spacing="0.3" >R10</text>
<rect x="285.5" y="489.2" width="9.3" height="9.3" fill="#000"/>
<rect x="299.8" y="489.2" width="9.3" height="9.3" fill="#000"/>
<text transform="translate(289 487.5) scale(1.07 1)" font-size="8.1" fill="#17961a" stroke="#17961a" stroke-width="0.3" text-anchor="start" letter-spacing="0.3" >R24</text>
<rect x="311.8" y="439.6" width="4.2" height="7" fill="#000"/>
<rect x="325.8" y="439.6" width="4" height="7" fill="#000"/>
<rect x="318.7" y="455" width="4" height="6.7" fill="#000"/>
<rect x="309.6" y="448.8" width="22" height="3.4" fill="none" stroke="#17961a" stroke-width="1.2"/>
<circle cx="333" cy="440.2" r="0.9" fill="#17961a"/>
<text transform="translate(318 437.2) scale(1.07 1)" font-size="8.1" fill="#17961a" stroke="#17961a" stroke-width="0.3" text-anchor="start" letter-spacing="0.3" >Q1</text>
<rect x="340.5" y="447.5" width="9.3" height="9.3" fill="#000"/>
<rect x="354.8" y="447.5" width="9.3" height="9.3" fill="#000"/>
<text transform="translate(347 446) scale(1.07 1)" font-size="8.1" fill="#17961a" stroke="#17961a" stroke-width="0.3" text-anchor="start" letter-spacing="0.3" >R9</text>
<rect x="335" y="463.6" width="9" height="9.3" fill="#000"/>
<rect x="349" y="463.6" width="9" height="9.3" fill="#000"/>
<text transform="translate(339.5 462.3) scale(1.07 1)" font-size="8.1" fill="#17961a" stroke="#17961a" stroke-width="0.3" text-anchor="start" letter-spacing="0.3" >C30</text>
<path d="M361.5 464 L361.5 473" fill="none" stroke="#17961a" stroke-width="1.4" />
<rect x="392.4" y="436.7" width="11" height="8.5" fill="#000"/>
<rect x="392.4" y="449.5" width="11" height="8.5" fill="#000"/>
<text transform="translate(390.5 455) rotate(-90) scale(1.00 1)" font-size="8.5" fill="#17961a" stroke="#17961a" stroke-width="0.3" text-anchor="start" letter-spacing="0.3" >R27</text>
<rect x="379.2" y="474" width="9.3" height="9.3" fill="#000"/>
<rect x="393.5" y="474" width="9.3" height="9.3" fill="#000"/>
<text transform="translate(383 472.3) scale(1.07 1)" font-size="8.1" fill="#17961a" stroke="#17961a" stroke-width="0.3" text-anchor="start" letter-spacing="0.3" >R35</text>
<rect x="412" y="474" width="9.3" height="9.3" fill="#000"/>
<rect x="426.3" y="474" width="9.3" height="9.3" fill="#000"/>
<text transform="translate(416 472.3) scale(1.07 1)" font-size="8.1" fill="#17961a" stroke="#17961a" stroke-width="0.3" text-anchor="start" letter-spacing="0.3" >R38</text>
<rect x="412" y="506.8" width="9.3" height="9.3" fill="#000"/>
<rect x="426.3" y="506.8" width="9.3" height="9.3" fill="#000"/>
<text transform="translate(416 505.2) scale(1.07 1)" font-size="8.1" fill="#17961a" stroke="#17961a" stroke-width="0.3" text-anchor="start" letter-spacing="0.3" >R40</text>
<rect x="188" y="513.3" width="33.4" height="13.8" fill="#000"/>
<rect x="254.6" y="513.3" width="33" height="13.8" fill="#000"/>
<path d="M200.2 511 L200.2 497 L212 485.8 L275.8 485.8 L275.8 511" fill="none" stroke="#17961a" stroke-width="1.7" />
<path d="M200.2 529.5 L200.2 543.5 L212 554.6 L275.8 554.6 L275.8 529.5" fill="none" stroke="#17961a" stroke-width="1.7" />
<circle cx="193.9" cy="508.4" r="2.6" fill="#17961a"/>
<text transform="translate(231 484.5) scale(1.07 1)" font-size="8.1" fill="#17961a" stroke="#17961a" stroke-width="0.3" text-anchor="start" letter-spacing="0.3" >C21</text>
<rect x="122.8" y="524.3" width="41" height="48.5" fill="none" stroke="#17961a" stroke-width="1.6"/>
<ellipse cx="139.3" cy="540.2" rx="5.3" ry="4.8" fill="#000"/>
<ellipse cx="139.3" cy="540.2" rx="3.4" ry="3.1" fill="#fff"/>
<rect x="134" y="552.1" width="10.6" height="10" fill="#000"/>
<ellipse cx="139.3" cy="557.1" rx="3.4" ry="3.1" fill="#fff"/>
<text transform="translate(135.3 522) scale(1.07 1)" font-size="8.1" fill="#17961a" stroke="#17961a" stroke-width="0.3" text-anchor="start" letter-spacing="0.5" >SSR</text>
<rect x="318.9" y="500" width="4.3" height="12.7" fill="#000"/>
<rect x="318.9" y="535.9" width="4.3" height="12.8" fill="#000"/>
<rect x="328.1" y="500" width="4.3" height="12.7" fill="#000"/>
<rect x="328.1" y="535.9" width="4.3" height="12.8" fill="#000"/>
<rect x="337.6" y="500" width="4.3" height="12.7" fill="#000"/>
<rect x="337.6" y="535.9" width="4.3" height="12.8" fill="#000"/>
<rect x="346.8" y="500" width="4.3" height="12.7" fill="#000"/>
<rect x="346.8" y="535.9" width="4.3" height="12.8" fill="#000"/>
<rect x="316.8" y="516.5" width="36.1" height="16.1" fill="none" stroke="#17961a" stroke-width="1.6"/>
<path d="M316.8 521.9 a2.6 2.6 0 0 1 0 5.2" fill="#fff" stroke="#17961a" stroke-width="1.3"/>
<text transform="translate(330 498) scale(1.07 1)" font-size="8.1" fill="#17961a" stroke="#17961a" stroke-width="0.3" text-anchor="start" letter-spacing="0.3" >U8</text>
<rect x="365.9" y="504.5" width="4.3" height="12.7" fill="#000"/>
<rect x="365.9" y="540.2" width="4.3" height="12.8" fill="#000"/>
<rect x="375.3" y="504.5" width="4.3" height="12.7" fill="#000"/>
<rect x="375.3" y="540.2" width="4.3" height="12.8" fill="#000"/>
<rect x="384.5" y="504.5" width="4.3" height="12.7" fill="#000"/>
<rect x="384.5" y="540.2" width="4.3" height="12.8" fill="#000"/>
<rect x="394" y="504.5" width="4.3" height="12.7" fill="#000"/>
<rect x="394" y="540.2" width="4.3" height="12.8" fill="#000"/>
<rect x="363.7" y="520.6" width="35.7" height="16.1" fill="none" stroke="#17961a" stroke-width="1.6"/>
<path d="M363.7 526.1 a2.6 2.6 0 0 1 0 5.2" fill="#fff" stroke="#17961a" stroke-width="1.3"/>
<text transform="translate(374.5 502.5) scale(1.07 1)" font-size="8.1" fill="#17961a" stroke="#17961a" stroke-width="0.3" text-anchor="start" letter-spacing="0.3" >U12</text>
<path d="M297.5 505.9 L307.5 505.9" fill="none" stroke="#17961a" stroke-width="1.4" />
<rect x="297.3" y="508.8" width="10.2" height="8.4" fill="#000"/>
<rect x="297.3" y="521.5" width="10.2" height="8.4" fill="#000"/>
<text transform="translate(295 526) rotate(-90) scale(1.00 1)" font-size="8.5" fill="#17961a" stroke="#17961a" stroke-width="0.3" text-anchor="start" letter-spacing="0.3" >C15</text>
<rect x="284.3" y="537.3" width="9.3" height="9.3" fill="#000"/>
<rect x="298.6" y="537.3" width="9.3" height="9.3" fill="#000"/>
<text transform="translate(288 535.8) scale(1.07 1)" font-size="8.1" fill="#17961a" stroke="#17961a" stroke-width="0.3" text-anchor="start" letter-spacing="0.3" >R26</text>
<rect x="331.1" y="552.6" width="9.3" height="9.3" fill="#000"/>
<rect x="345.4" y="552.6" width="9.3" height="9.3" fill="#000"/>
<text transform="translate(335 551) scale(1.07 1)" font-size="8.1" fill="#17961a" stroke="#17961a" stroke-width="0.3" text-anchor="start" letter-spacing="0.3" >R28</text>
<rect x="411.6" y="524.7" width="10.2" height="8.6" fill="#000"/>
<rect x="411.6" y="537.6" width="10.2" height="8.6" fill="#000"/>
<text transform="translate(409.5 543.5) rotate(-90) scale(1.00 1)" font-size="8.5" fill="#17961a" stroke="#17961a" stroke-width="0.3" text-anchor="start" letter-spacing="0.3" >R41</text>
<rect x="430.3" y="524.7" width="10.8" height="8.6" fill="#000"/>
<rect x="430.3" y="537.6" width="10.8" height="8.6" fill="#000"/>
<text transform="translate(428.5 544.5) rotate(-90) scale(1.00 1)" font-size="8.5" fill="#17961a" stroke="#17961a" stroke-width="0.3" text-anchor="start" letter-spacing="0.3" >C31</text>
<path d="M430.5 548.3 L441 548.3" fill="none" stroke="#17961a" stroke-width="1.4" />
<rect x="398.3" y="565" width="11.4" height="11.6" fill="#000"/>
<rect x="419.1" y="565" width="11.2" height="11.6" fill="#000"/>
<path d="M416.4 566 L412.6 566 L412.6 575.6 L416.4 575.6" fill="none" stroke="#17961a" stroke-width="2" />
<text transform="translate(406 563) scale(1.07 1)" font-size="8.1" fill="#17961a" stroke="#17961a" stroke-width="0.3" text-anchor="start" letter-spacing="0.3" >D25</text>
<rect x="478.9" y="503.5" width="15.7" height="29.9" fill="#000"/>
<rect x="478.9" y="563.4" width="15.7" height="28.6" fill="#000"/>
<path d="M476.3 513.9 L448.3 513.9 L448.3 571.3 L460.6 583 L476.3 583" fill="none" stroke="#17961a" stroke-width="1.7" />
<path d="M497.4 513.9 L525.1 513.9 L525.1 571.3 L513.1 583 L497.4 583" fill="none" stroke="#17961a" stroke-width="1.7" />
<circle cx="473.4" cy="587.7" r="2.6" fill="#17961a"/>
<text transform="translate(479.5 501.5) scale(1.07 1)" font-size="8.1" fill="#17961a" stroke="#17961a" stroke-width="0.3" text-anchor="start" letter-spacing="0.3" >C16</text>
<rect x="567.1" y="514.9" width="7.5" height="8.6" fill="#000"/>
<rect x="578.5" y="514.9" width="7.5" height="8.6" fill="#000"/>
<text transform="translate(572.5 513) scale(1.07 1)" font-size="8.1" fill="#17961a" stroke="#17961a" stroke-width="0.3" text-anchor="start" letter-spacing="0.3" >L1</text>
<rect x="594.6" y="516.3" width="9.5" height="9.8" fill="#000"/>
<rect x="608.7" y="516.3" width="9.5" height="9.8" fill="#000"/>
<text transform="translate(600.5 514.5) scale(1.07 1)" font-size="8.1" fill="#17961a" stroke="#17961a" stroke-width="0.3" text-anchor="start" letter-spacing="0.3" >C13</text>
<path d="M620.7 516.5 L620.7 526" fill="none" stroke="#17961a" stroke-width="1.3" />
<path d="M623.8 516.5 L623.8 526" fill="none" stroke="#17961a" stroke-width="1.3" />
<rect x="627.5" y="516.3" width="9.3" height="9.8" fill="#000"/>
<rect x="641.4" y="516.3" width="9.3" height="9.8" fill="#000"/>
<text transform="translate(630 514.5) scale(1.07 1)" font-size="8.1" fill="#17961a" stroke="#17961a" stroke-width="0.3" text-anchor="start" letter-spacing="0.3" >C14</text>
<rect x="569.7" y="535.9" width="9.4" height="9.4" fill="#000"/>
<rect x="584" y="535.9" width="9.4" height="9.4" fill="#000"/>
<text transform="translate(575 534) scale(1.07 1)" font-size="8.1" fill="#17961a" stroke="#17961a" stroke-width="0.3" text-anchor="start" letter-spacing="0.3" >C3</text>
<path d="M566.7 536 L566.7 545.3" fill="none" stroke="#17961a" stroke-width="1.4" />
<rect x="601.7" y="538.5" width="16.1" height="16.1" fill="#000"/>
<rect x="630.8" y="538.5" width="16.1" height="16.1" fill="#000"/>
<rect x="606.2" y="536.7" width="36.1" height="19.7" fill="none" stroke="#17961a" stroke-width="1.5"/>
<text transform="translate(621 534.5) scale(1.07 1)" font-size="8.1" fill="#17961a" stroke="#17961a" stroke-width="0.3" text-anchor="start" letter-spacing="0.3" >Y1</text>
<rect x="533.6" y="557.3" width="56.6" height="33.3" fill="none" stroke="#17961a" stroke-width="1.6"/>
<ellipse cx="543.1" cy="565.8" rx="5.8" ry="5.2" fill="#000"/>
<ellipse cx="543.1" cy="565.8" rx="4" ry="3.5" fill="#fff"/>
<ellipse cx="543.1" cy="582.4" rx="5.8" ry="5.2" fill="#000"/>
<ellipse cx="543.1" cy="582.4" rx="4" ry="3.5" fill="#fff"/>
<ellipse cx="561.6" cy="565.8" rx="5.8" ry="5.2" fill="#000"/>
<ellipse cx="561.6" cy="565.8" rx="4" ry="3.5" fill="#fff"/>
<ellipse cx="561.6" cy="582.4" rx="5.8" ry="5.2" fill="#000"/>
<ellipse cx="561.6" cy="582.4" rx="4" ry="3.5" fill="#fff"/>
<rect x="574.7" y="560.4" width="11.6" height="10.8" fill="#000"/>
<ellipse cx="580.5" cy="565.8" rx="4" ry="3.5" fill="#fff"/>
<ellipse cx="580.5" cy="582.4" rx="5.8" ry="5.2" fill="#000"/>
<ellipse cx="580.5" cy="582.4" rx="4" ry="3.5" fill="#fff"/>
<text transform="translate(556 555) scale(1.07 1)" font-size="8.1" fill="#17961a" stroke="#17961a" stroke-width="0.3" text-anchor="start" letter-spacing="0.3" >PR</text>
<path d="M166.8 581 L197.6 552.6 L229.6 581 L197.6 609.4 Z" fill="#fff" stroke="#17961a" stroke-width="1.9"/>
<path d="M174.6 576.6 L193.6 560.3 L201.8 566.4 L183.3 583.6 Z" fill="#000" stroke="#000" stroke-width="2.4" stroke-linejoin="round"/>
<path d="M194.6 594.5 L213.5 578.3 L221.8 584.3 L203.2 601.2 Z" fill="#000" stroke="#000" stroke-width="2.4" stroke-linejoin="round"/>
<ellipse cx="197.8" cy="580.7" rx="21.8" ry="20.5" fill="none" stroke="#17961a" stroke-width="1.9"/>
<text transform="translate(192.5 551.5) scale(1.07 1)" font-size="8.1" fill="#17961a" stroke="#17961a" stroke-width="0.3" text-anchor="start" letter-spacing="0.3" >L2</text>
<ellipse cx="154.3" cy="629" rx="38.3" ry="34.5" fill="none" stroke="#17961a" stroke-width="1.7"/>
<rect x="-5.6" y="-5.6" width="11.2" height="11.2" fill="#000" transform="translate(144.2 615.4) rotate(-28)"/>
<ellipse cx="144.2" cy="615.4" rx="3" ry="2.8" fill="#fff"/>
<ellipse cx="165.5" cy="642.6" rx="5.4" ry="4.9" fill="#000"/>
<ellipse cx="165.5" cy="642.6" rx="3.2" ry="3" fill="#fff"/>
<text transform="translate(146.5 592.5) scale(1.07 1)" font-size="8.1" fill="#17961a" stroke="#17961a" stroke-width="0.3" text-anchor="start" letter-spacing="0.3" >C26</text>
<text transform="translate(192.8 632) rotate(-90) scale(1.00 1)" font-size="7.5" fill="#17961a" stroke="#17961a" stroke-width="0.3" text-anchor="start" letter-spacing="0.3" >C17</text>
<path d="M196.5 613.1 L207 613.1" fill="none" stroke="#17961a" stroke-width="1.4" />
<rect x="196.2" y="615.9" width="11" height="9" fill="#000"/>
<rect x="196.2" y="629.1" width="11" height="9" fill="#000"/>
<rect x="210.6" y="605.2" width="14.4" height="4" fill="#000"/>
<rect x="250.5" y="605.2" width="14.4" height="4" fill="#000"/>
<rect x="210.6" y="613.6" width="14.4" height="4" fill="#000"/>
<rect x="250.5" y="613.6" width="14.4" height="4" fill="#000"/>
<rect x="210.6" y="621.9" width="14.4" height="4" fill="#000"/>
<rect x="250.5" y="621.9" width="14.4" height="4" fill="#000"/>
<rect x="210.6" y="630.2" width="14.4" height="4" fill="#000"/>
<rect x="250.5" y="630.2" width="14.4" height="4" fill="#000"/>
<rect x="228.9" y="603.6" width="17.5" height="31.7" fill="none" stroke="#17961a" stroke-width="1.5"/>
<path d="M234.5 603.6 a3.2 3 0 0 0 6.4 0" fill="#fff" stroke="#17961a" stroke-width="1.3"/>
<text transform="translate(233 600.5) scale(1.07 1)" font-size="8.1" fill="#17961a" stroke="#17961a" stroke-width="0.3" text-anchor="start" letter-spacing="0.3" >U9</text>
<rect x="203.1" y="647.8" width="9.8" height="9.1" fill="#000"/>
<rect x="217.9" y="647.8" width="9.8" height="9.1" fill="#000"/>
<text transform="translate(207.5 646) scale(1.07 1)" font-size="8.1" fill="#17961a" stroke="#17961a" stroke-width="0.3" text-anchor="start" letter-spacing="0.3" >R25</text>
<rect x="233" y="647.8" width="9.6" height="9.1" fill="#000"/>
<rect x="247.2" y="647.8" width="9.6" height="9.1" fill="#000"/>
<text transform="translate(236.5 646) scale(1.07 1)" font-size="8.1" fill="#17961a" stroke="#17961a" stroke-width="0.3" text-anchor="start" letter-spacing="0.3" >R23</text>
<rect x="233.3" y="574.5" width="11.4" height="11.4" fill="#000"/>
<rect x="253.9" y="574.5" width="11.8" height="11.4" fill="#000"/>
<path d="M251 575.4 L247.4 575.4 L247.4 585 L251 585" fill="none" stroke="#17961a" stroke-width="2" />
<text transform="translate(242 572.3) scale(1.07 1)" font-size="8.1" fill="#17961a" stroke="#17961a" stroke-width="0.3" text-anchor="start" letter-spacing="0.3" >D10</text>
<rect x="270.5" y="566.8" width="7.2" height="17.8" fill="#000"/>
<rect x="304.3" y="566.8" width="7.2" height="17.8" fill="#000"/>
<path d="M266.5 635.5 L266.5 587.5 L316.1 587.5 L316.1 635.5" fill="none" stroke="#17961a" stroke-width="1.6" />
<path d="M268.2 589.3 L314.4 589.3" fill="none" stroke="#17961a" stroke-width="0.9" />
<path d="M265.5 634.6 L268 634.6" fill="none" stroke="#17961a" stroke-width="1.4" />
<path d="M314.6 634.6 L317.1 634.6" fill="none" stroke="#17961a" stroke-width="1.4" />
<rect x="271" y="600.6" width="40.6" height="40.6" fill="#000"/>
<circle cx="315.6" cy="568.7" r="0.9" fill="#17961a"/>
<text transform="translate(286.5 565.5) scale(1.07 1)" font-size="8.1" fill="#17961a" stroke="#17961a" stroke-width="0.3" text-anchor="start" letter-spacing="0.3" >Q3</text>
<rect x="350.3" y="566.8" width="7.2" height="17.8" fill="#000"/>
<rect x="384" y="566.8" width="7.2" height="17.8" fill="#000"/>
<path d="M345.9 635.5 L345.9 587.5 L396 587.5 L396 635.5" fill="none" stroke="#17961a" stroke-width="1.6" />
<path d="M347.6 589.3 L394.3 589.3" fill="none" stroke="#17961a" stroke-width="0.9" />
<path d="M344.9 634.6 L347.4 634.6" fill="none" stroke="#17961a" stroke-width="1.4" />
<path d="M394.5 634.6 L397 634.6" fill="none" stroke="#17961a" stroke-width="1.4" />
<rect x="350.3" y="600.6" width="40.6" height="40.6" fill="#000"/>
<circle cx="395.3" cy="568.7" r="0.9" fill="#17961a"/>
<text transform="translate(366 565.5) scale(1.07 1)" font-size="8.1" fill="#17961a" stroke="#17961a" stroke-width="0.3" text-anchor="start" letter-spacing="0.3" >Q5</text>
<rect x="328.2" y="620.4" width="10.7" height="8.7" fill="#000"/>
<rect x="328.2" y="633" width="10.7" height="8.7" fill="#000"/>
<text transform="translate(326 640) rotate(-90) scale(1.00 1)" font-size="8.5" fill="#17961a" stroke="#17961a" stroke-width="0.3" text-anchor="start" letter-spacing="0.3" >R21</text>
<rect x="268.2" y="646.4" width="11.6" height="11.7" fill="#000"/>
<rect x="289" y="646.4" width="11.6" height="11.7" fill="#000"/>
<path d="M286 647.4 L282.4 647.4 L282.4 657.1 L286 657.1" fill="none" stroke="#17961a" stroke-width="2" />
<text transform="translate(279.5 644.6) scale(1.07 1)" font-size="8.1" fill="#17961a" stroke="#17961a" stroke-width="0.3" text-anchor="start" letter-spacing="0.3" >D8</text>
<rect x="349.2" y="646.4" width="11.6" height="11.7" fill="#000"/>
<rect x="370" y="646.4" width="11.6" height="11.7" fill="#000"/>
<path d="M367 647.4 L363.4 647.4 L363.4 657.1 L367 657.1" fill="none" stroke="#17961a" stroke-width="2" />
<text transform="translate(356.5 644.6) scale(1.07 1)" font-size="8.1" fill="#17961a" stroke="#17961a" stroke-width="0.3" text-anchor="start" letter-spacing="0.3" >D13</text>
<path d="M310 647 L310 656" fill="none" stroke="#17961a" stroke-width="1.4" />
<rect x="312.7" y="646.7" width="9.2" height="9.5" fill="#000"/>
<rect x="326.9" y="646.7" width="9.2" height="9.5" fill="#000"/>
<text transform="translate(318 645) scale(1.07 1)" font-size="8.1" fill="#17961a" stroke="#17961a" stroke-width="0.3" text-anchor="start" letter-spacing="0.3" >D7</text>
<path d="M385 647.5 L385 656.5" fill="none" stroke="#17961a" stroke-width="1.4" />
<rect x="387.5" y="647.3" width="9.2" height="9.5" fill="#000"/>
<rect x="401.7" y="647.3" width="9.2" height="9.5" fill="#000"/>
<text transform="translate(391.5 645.3) scale(1.07 1)" font-size="8.1" fill="#17961a" stroke="#17961a" stroke-width="0.3" text-anchor="start" letter-spacing="0.3" >D12</text>
<rect x="419.4" y="649.4" width="10.8" height="8.7" fill="#000"/>
<rect x="419.4" y="661.9" width="10.8" height="8.7" fill="#000"/>
<text transform="translate(417.5 667) rotate(-90) scale(1.00 1)" font-size="8.5" fill="#17961a" stroke="#17961a" stroke-width="0.3" text-anchor="start" letter-spacing="0.3" >R31</text>
<rect x="127.8" y="669.5" width="11.7" height="11.4" fill="#000"/>
<rect x="148.6" y="669.5" width="11.7" height="11.4" fill="#000"/>
<path d="M145.7 670.5 L142.1 670.5 L142.1 679.9 L145.7 679.9" fill="none" stroke="#17961a" stroke-width="2" />
<text transform="translate(136.5 667.7) scale(1.07 1)" font-size="8.1" fill="#17961a" stroke="#17961a" stroke-width="0.3" text-anchor="start" letter-spacing="0.3" >D18</text>
<rect x="133.5" y="689.5" width="9.4" height="9.6" fill="#000"/>
<rect x="147.9" y="689.5" width="9.4" height="9.6" fill="#000"/>
<text transform="translate(136.5 687.7) scale(1.07 1)" font-size="8.1" fill="#17961a" stroke="#17961a" stroke-width="0.3" text-anchor="start" letter-spacing="0.3" >C29</text>
<path d="M130.3 690 L130.3 699" fill="none" stroke="#17961a" stroke-width="1.4" />
<rect x="420.3" y="682.7" width="11.6" height="11.4" fill="#000"/>
<rect x="440.9" y="682.7" width="11.6" height="11.4" fill="#000"/>
<path d="M438.1 683.7 L434.5 683.7 L434.5 693.1 L438.1 693.1" fill="none" stroke="#17961a" stroke-width="2" />
<text transform="translate(427.5 680.9) scale(1.07 1)" font-size="8.1" fill="#17961a" stroke="#17961a" stroke-width="0.3" text-anchor="start" letter-spacing="0.3" >D20</text>
<rect x="487.1" y="682.7" width="11.4" height="11.4" fill="#000"/>
<rect x="507.3" y="682.7" width="11.4" height="11.4" fill="#000"/>
<path d="M504.7 683.7 L501.1 683.7 L501.1 693.1 L504.7 693.1" fill="none" stroke="#17961a" stroke-width="2" />
<text transform="translate(494 680.9) scale(1.07 1)" font-size="8.1" fill="#17961a" stroke="#17961a" stroke-width="0.3" text-anchor="start" letter-spacing="0.3" >D22</text>
<rect x="408" y="581.7" width="6.5" height="13.6" fill="#000"/>
<rect x="424.6" y="581.7" width="6.5" height="13.6" fill="#000"/>
<rect x="441.5" y="581.7" width="6.5" height="13.6" fill="#000"/>
<rect x="404" y="600" width="47.8" height="16.3" fill="none" stroke="#17961a" stroke-width="1.5"/>
<rect x="416.4" y="620.4" width="22.8" height="13.7" fill="#000"/>
<circle cx="452.2" cy="583.5" r="0.9" fill="#17961a"/>
<text transform="translate(422 579) scale(1.07 1)" font-size="8.1" fill="#17961a" stroke="#17961a" stroke-width="0.3" text-anchor="start" letter-spacing="0.3" >U14</text>
<rect x="475.9" y="603.8" width="10.8" height="8.8" fill="#000"/>
<rect x="475.9" y="616.6" width="10.8" height="8.8" fill="#000"/>
<text transform="translate(474 621.5) rotate(-90) scale(1.00 1)" font-size="8.5" fill="#17961a" stroke="#17961a" stroke-width="0.3" text-anchor="start" letter-spacing="0.3" >R54</text>
<rect x="476.9" y="631.2" width="10.5" height="8.6" fill="#000"/>
<rect x="476.9" y="643.9" width="10.5" height="8.6" fill="#000"/>
<text transform="translate(474.5 649.5) rotate(-90) scale(1.00 1)" font-size="8.5" fill="#17961a" stroke="#17961a" stroke-width="0.3" text-anchor="start" letter-spacing="0.3" >D19</text>
<path d="M477 654.3 L487.4 654.3" fill="none" stroke="#17961a" stroke-width="1.4" />
<rect x="455.9" y="625" width="10.3" height="8.7" fill="#000"/>
<rect x="455.9" y="637.5" width="10.3" height="8.7" fill="#000"/>
<text transform="translate(454 643) rotate(-90) scale(1.00 1)" font-size="8.5" fill="#17961a" stroke="#17961a" stroke-width="0.3" text-anchor="start" letter-spacing="0.3" >R68</text>
<rect x="439.9" y="654" width="9.7" height="9.3" fill="#000"/>
<rect x="454.1" y="654" width="9.7" height="9.3" fill="#000"/>
<text transform="translate(443 652.3) scale(1.07 1)" font-size="8.1" fill="#17961a" stroke="#17961a" stroke-width="0.3" text-anchor="start" letter-spacing="0.3" >R73</text>
<rect x="506" y="610.2" width="10.8" height="8.7" fill="#000"/>
<rect x="506" y="622.8" width="10.8" height="8.7" fill="#000"/>
<text transform="translate(504 628) rotate(-90) scale(1.00 1)" font-size="8.5" fill="#17961a" stroke="#17961a" stroke-width="0.3" text-anchor="start" letter-spacing="0.3" >R66</text>
<rect x="523.8" y="614" width="10.7" height="8.7" fill="#000"/>
<rect x="523.8" y="627.3" width="10.7" height="8.7" fill="#000"/>
<text transform="translate(522 632.5) rotate(-90) scale(1.00 1)" font-size="8.5" fill="#17961a" stroke="#17961a" stroke-width="0.3" text-anchor="start" letter-spacing="0.3" >R53</text>
<rect x="493" y="639.1" width="9.3" height="9.4" fill="#000"/>
<rect x="506.8" y="639.1" width="9.3" height="9.4" fill="#000"/>
<text transform="translate(496.5 637.5) scale(1.07 1)" font-size="8.1" fill="#17961a" stroke="#17961a" stroke-width="0.3" text-anchor="start" letter-spacing="0.3" >R70</text>
<rect x="523.8" y="642.1" width="10.7" height="8.7" fill="#000"/>
<rect x="523.8" y="654.6" width="10.7" height="8.7" fill="#000"/>
<text transform="translate(521.5 660) rotate(-90) scale(1.00 1)" font-size="8.5" fill="#17961a" stroke="#17961a" stroke-width="0.3" text-anchor="start" letter-spacing="0.3" >D21</text>
<path d="M524 665.5 L534.5 665.5" fill="none" stroke="#17961a" stroke-width="1.4" />
<rect x="495.4" y="653.5" width="4.4" height="6.4" fill="#000"/>
<rect x="509" y="653.5" width="4.4" height="6.4" fill="#000"/>
<rect x="502" y="668.3" width="4.5" height="6.4" fill="#000"/>
<rect x="493" y="662.4" width="22.8" height="3.3" fill="none" stroke="#17961a" stroke-width="1.2"/>
<text transform="translate(500.5 651.5) scale(1.07 1)" font-size="8.1" fill="#17961a" stroke="#17961a" stroke-width="0.3" text-anchor="start" letter-spacing="0.3" >Q7</text>
<rect x="459.3" y="668.3" width="4.4" height="6.4" fill="#000"/>
<rect x="472.9" y="668.3" width="4.4" height="6.4" fill="#000"/>
<rect x="465.9" y="683.1" width="4.5" height="6.4" fill="#000"/>
<rect x="456.9" y="677.2" width="22.8" height="3.3" fill="none" stroke="#17961a" stroke-width="1.2"/>
<text transform="translate(464.5 666.5) scale(1.07 1)" font-size="8.1" fill="#17961a" stroke="#17961a" stroke-width="0.3" text-anchor="start" letter-spacing="0.3" >Q8</text>
<circle cx="481" cy="669" r="0.9" fill="#17961a"/>
<rect x="575.6" y="642.1" width="9.6" height="9.6" fill="#000"/>
<rect x="589.9" y="642.1" width="9.6" height="9.6" fill="#000"/>
<text transform="translate(578.5 640.3) scale(1.07 1)" font-size="8.1" fill="#17961a" stroke="#17961a" stroke-width="0.3" text-anchor="start" letter-spacing="0.3" >R44</text>
<rect x="620.2" y="640.3" width="9.5" height="9.4" fill="#000"/>
<rect x="634.3" y="640.3" width="9.5" height="9.4" fill="#000"/>
<text transform="translate(623.5 638.5) scale(1.07 1)" font-size="8.1" fill="#17961a" stroke="#17961a" stroke-width="0.3" text-anchor="start" letter-spacing="0.3" >R45</text>
<rect x="592.1" y="605.2" width="9.5" height="9.5" fill="#000"/>
<rect x="606.1" y="605.2" width="9.5" height="9.5" fill="#000"/>
<text transform="translate(599.5 603.3) scale(1.07 1)" font-size="8.1" fill="#17961a" stroke="#17961a" stroke-width="0.3" text-anchor="start" letter-spacing="0.3" >C7</text>
<path d="M618.6 605.5 L618.6 614.5" fill="none" stroke="#17961a" stroke-width="1.4" />
<rect x="530.4" y="672.4" width="21.9" height="10.7" fill="#000"/>
<rect x="563.7" y="672.4" width="21.5" height="10.7" fill="#000"/>
<path d="M538.2 670.3 L538.2 659.8 L570.8 659.8 L577.8 666.5 L577.8 670.3" fill="none" stroke="#17961a" stroke-width="1.6" />
<path d="M538.2 685.3 L538.2 694.4 L570.8 694.4 L577.8 688 L577.8 685.3" fill="none" stroke="#17961a" stroke-width="1.6" />
<circle cx="581.8" cy="687.3" r="1.7" fill="#17961a"/>
<text transform="translate(549.5 657.5) scale(1.07 1)" font-size="8.1" fill="#17961a" stroke="#17961a" stroke-width="0.3" text-anchor="start" letter-spacing="0.3" >C38</text>
<rect x="591" y="672.4" width="21.9" height="10.7" fill="#000"/>
<rect x="624.7" y="672.4" width="21.2" height="10.7" fill="#000"/>
<path d="M598.7 670.3 L598.7 659.8 L631.8 659.8 L638.8 666.5 L638.8 670.3" fill="none" stroke="#17961a" stroke-width="1.6" />
<path d="M598.7 685.3 L598.7 694.4 L631.8 694.4 L638.8 688 L638.8 685.3" fill="none" stroke="#17961a" stroke-width="1.6" />
<circle cx="643" cy="687.3" r="1.7" fill="#17961a"/>
<text transform="translate(611 657.5) scale(1.07 1)" font-size="8.1" fill="#17961a" stroke="#17961a" stroke-width="0.3" text-anchor="start" letter-spacing="0.3" >C39</text>
<rect x="652.1" y="672.4" width="21.7" height="10.7" fill="#000"/>
<rect x="685.6" y="672.4" width="21.2" height="10.7" fill="#000"/>
<path d="M659.6 670.3 L659.6 659.8 L692.9 659.8 L699.9 666.5 L699.9 670.3" fill="none" stroke="#17961a" stroke-width="1.6" />
<path d="M659.6 685.3 L659.6 694.4 L692.9 694.4 L699.9 688 L699.9 685.3" fill="none" stroke="#17961a" stroke-width="1.6" />
<circle cx="703.9" cy="687.3" r="1.7" fill="#17961a"/>
<text transform="translate(671.5 657.5) scale(1.07 1)" font-size="8.1" fill="#17961a" stroke="#17961a" stroke-width="0.3" text-anchor="start" letter-spacing="0.3" >C40</text>
<rect x="174.4" y="674.8" width="74.8" height="73.4" fill="none" stroke="#17961a" stroke-width="1.6"/>
<path d="M174.4 694.2 L249.2 694.2" fill="none" stroke="#17961a" stroke-width="1.5" />
<path d="M174.4 731.5 L249.2 731.5" fill="none" stroke="#17961a" stroke-width="1.5" />
<rect x="249.2" y="684.5" width="3.4" height="4.9" fill="none" stroke="#17961a" stroke-width="1.2"/>
<ellipse cx="192.4" cy="711.3" rx="14.6" ry="13.3" fill="#000"/>
<ellipse cx="192.4" cy="711.3" rx="6" ry="5.6" fill="#fff"/>
<ellipse cx="230.4" cy="711.3" rx="14.6" ry="13.3" fill="#000"/>
<ellipse cx="230.4" cy="711.3" rx="6" ry="5.6" fill="#fff"/>
<text transform="translate(194 671.8) scale(1.07 1)" font-size="8.1" fill="#17961a" stroke="#17961a" stroke-width="0.3" text-anchor="start" letter-spacing="0.6" >+POWER-</text>
<rect x="263.2" y="674.8" width="74.8" height="73.4" fill="none" stroke="#17961a" stroke-width="1.6"/>
<path d="M263.2 694.2 L338 694.2" fill="none" stroke="#17961a" stroke-width="1.5" />
<path d="M263.2 731.5 L338 731.5" fill="none" stroke="#17961a" stroke-width="1.5" />
<rect x="338" y="684.5" width="3.4" height="4.9" fill="none" stroke="#17961a" stroke-width="1.2"/>
<ellipse cx="281.9" cy="711.3" rx="14.6" ry="13.3" fill="#000"/>
<ellipse cx="281.9" cy="711.3" rx="6" ry="5.6" fill="#fff"/>
<ellipse cx="319.6" cy="711.3" rx="14.6" ry="13.3" fill="#000"/>
<ellipse cx="319.6" cy="711.3" rx="6" ry="5.6" fill="#fff"/>
<text transform="translate(284.5 671.8) scale(1.07 1)" font-size="8.1" fill="#17961a" stroke="#17961a" stroke-width="0.3" text-anchor="start" letter-spacing="0.6" >+HEAT1-</text>
<rect x="338" y="674.8" width="75" height="73.4" fill="none" stroke="#17961a" stroke-width="1.6"/>
<path d="M338 694.2 L413 694.2" fill="none" stroke="#17961a" stroke-width="1.5" />
<path d="M338 731.5 L413 731.5" fill="none" stroke="#17961a" stroke-width="1.5" />
<rect x="413" y="684.5" width="3.4" height="4.9" fill="none" stroke="#17961a" stroke-width="1.2"/>
<ellipse cx="356" cy="711.3" rx="14.6" ry="13.3" fill="#000"/>
<ellipse cx="356" cy="711.3" rx="6" ry="5.6" fill="#fff"/>
<ellipse cx="394.1" cy="711.3" rx="14.6" ry="13.3" fill="#000"/>
<ellipse cx="394.1" cy="711.3" rx="6" ry="5.6" fill="#fff"/>
<text transform="translate(358.3 671.8) scale(1.07 1)" font-size="8.1" fill="#17961a" stroke="#17961a" stroke-width="0.3" text-anchor="start" letter-spacing="0.6" >+HEAT2-</text>
<path d="M430.2 747.6 L418.2 747.6 L418.2 710.4 L473.4 710.4 L473.4 747.6 L461.4 747.6" fill="none" stroke="#17961a" stroke-width="1.6" />
<ellipse cx="436.5" cy="732.6" rx="4.9" ry="4.6" fill="#000"/>
<ellipse cx="436.5" cy="732.6" rx="3" ry="2.8" fill="#fff"/>
<rect x="450.3" y="727.8" width="9.8" height="9.6" fill="#000"/>
<ellipse cx="455.2" cy="732.6" rx="3" ry="2.8" fill="#fff"/>
<text transform="translate(431 707.3) scale(1.07 1)" font-size="8.1" fill="#17961a" stroke="#17961a" stroke-width="0.3" text-anchor="start" letter-spacing="0.6" >+FAN1-</text>
<path d="M487.6 747.6 L475.6 747.6 L475.6 710.4 L531.2 710.4 L531.2 747.6 L519.2 747.6" fill="none" stroke="#17961a" stroke-width="1.6" />
<ellipse cx="493.5" cy="732.6" rx="4.9" ry="4.6" fill="#000"/>
<ellipse cx="493.5" cy="732.6" rx="3" ry="2.8" fill="#fff"/>
<rect x="507.5" y="727.8" width="9.8" height="9.6" fill="#000"/>
<ellipse cx="512.4" cy="732.6" rx="3" ry="2.8" fill="#fff"/>
<text transform="translate(487 707.3) scale(1.07 1)" font-size="8.1" fill="#17961a" stroke="#17961a" stroke-width="0.3" text-anchor="start" letter-spacing="0.6" >+FAN2-</text>
<path d="M552.8 747.6 L540.8 747.6 L540.8 710.4 L596.2 710.4 L596.2 747.6 L584.2 747.6" fill="none" stroke="#17961a" stroke-width="1.6" />
<ellipse cx="559.2" cy="732.6" rx="4.9" ry="4.6" fill="#000"/>
<ellipse cx="559.2" cy="732.6" rx="3" ry="2.8" fill="#fff"/>
<rect x="573" y="727.8" width="9.8" height="9.6" fill="#000"/>
<ellipse cx="577.9" cy="732.6" rx="3" ry="2.8" fill="#fff"/>
<text transform="translate(562 707.3) scale(1.07 1)" font-size="8.1" fill="#17961a" stroke="#17961a" stroke-width="0.3" text-anchor="start" letter-spacing="0.6" >TH1</text>
<path d="M610.6 747.6 L598.6 747.6 L598.6 710.4 L653 710.4 L653 747.6 L641 747.6" fill="none" stroke="#17961a" stroke-width="1.6" />
<ellipse cx="616.3" cy="732.6" rx="4.9" ry="4.6" fill="#000"/>
<ellipse cx="616.3" cy="732.6" rx="3" ry="2.8" fill="#fff"/>
<rect x="630.6" y="727.8" width="9.8" height="9.6" fill="#000"/>
<ellipse cx="635.5" cy="732.6" rx="3" ry="2.8" fill="#fff"/>
<text transform="translate(619 707.3) scale(1.07 1)" font-size="8.1" fill="#17961a" stroke="#17961a" stroke-width="0.3" text-anchor="start" letter-spacing="0.6" >TH2</text>
<path d="M667.6 747.6 L655.6 747.6 L655.6 710.4 L711 710.4 L711 747.6 L699 747.6" fill="none" stroke="#17961a" stroke-width="1.6" />
<ellipse cx="673.8" cy="732.6" rx="4.9" ry="4.6" fill="#000"/>
<ellipse cx="673.8" cy="732.6" rx="3" ry="2.8" fill="#fff"/>
<rect x="687.8" y="727.8" width="9.8" height="9.6" fill="#000"/>
<ellipse cx="692.7" cy="732.6" rx="3" ry="2.8" fill="#fff"/>
<text transform="translate(676.5 707.3) scale(1.07 1)" font-size="8.1" fill="#17961a" stroke="#17961a" stroke-width="0.3" text-anchor="start" letter-spacing="0.6" >TH3</text>
<rect x="723.9" y="709.4" width="10.5" height="6.2" fill="#000"/>
<rect x="723.9" y="735.6" width="10.5" height="6.2" fill="#000"/>
<rect x="772.3" y="709.4" width="10.3" height="6.2" fill="#000"/>
<rect x="772.3" y="735.6" width="10.3" height="6.2" fill="#000"/>
<rect x="734.8" y="709.4" width="37.2" height="32.3" fill="#fff" stroke="#17961a" stroke-width="1.6"/>
<ellipse cx="753.5" cy="725.4" rx="12.4" ry="11.8" fill="none" stroke="#17961a" stroke-width="1.5"/>
<path d="M744 720.3 h19 M744 730.6 h19 M753 721 l1.5 4.5 l-1 0 l1.2 4.5" fill="none" stroke="#17961a" stroke-width="0.8"/>
<circle cx="781.4" cy="744.3" r="0.9" fill="#17961a"/>
<text transform="translate(739.5 706.3) scale(1.07 1)" font-size="8.1" fill="#17961a" stroke="#17961a" stroke-width="0.3" text-anchor="start" letter-spacing="0.5" >RESET</text>
<rect x="799.2" y="592" width="2.6" height="5.3" fill="#000"/>
<rect x="799.2" y="606.3" width="2.6" height="5.6" fill="#000"/>
<rect x="803.2" y="592" width="2.6" height="5.3" fill="#000"/>
<rect x="803.2" y="606.3" width="2.6" height="5.6" fill="#000"/>
<rect x="807.2" y="592" width="2.6" height="5.3" fill="#000"/>
<rect x="807.2" y="606.3" width="2.6" height="5.6" fill="#000"/>
<rect x="797" y="599.4" width="15.8" height="3.8" fill="none" stroke="#17961a" stroke-width="1.1"/>
<text transform="translate(800.5 589.5) scale(1.07 1)" font-size="8.1" fill="#17961a" stroke="#17961a" stroke-width="0.3" text-anchor="start" letter-spacing="0.3" >U5</text>
<circle cx="813.3" cy="592" r="0.8" fill="#17961a"/>
<rect x="805.2" y="623" width="2.6" height="5.3" fill="#000"/>
<rect x="805.2" y="637.3" width="2.6" height="5.6" fill="#000"/>
<rect x="809.2" y="623" width="2.6" height="5.3" fill="#000"/>
<rect x="809.2" y="637.3" width="2.6" height="5.6" fill="#000"/>
<rect x="813.2" y="623" width="2.6" height="5.3" fill="#000"/>
<rect x="813.2" y="637.3" width="2.6" height="5.6" fill="#000"/>
<rect x="803" y="630.4" width="15.8" height="3.8" fill="none" stroke="#17961a" stroke-width="1.1"/>
<text transform="translate(806 621) scale(1.07 1)" font-size="8.1" fill="#17961a" stroke="#17961a" stroke-width="0.3" text-anchor="start" letter-spacing="0.3" >U6</text>
<circle cx="801.5" cy="641" r="0.8" fill="#17961a"/>
<rect x="817.2" y="650" width="2.6" height="5.3" fill="#000"/>
<rect x="817.2" y="664.3" width="2.6" height="5.6" fill="#000"/>
<rect x="821.2" y="650" width="2.6" height="5.3" fill="#000"/>
<rect x="821.2" y="664.3" width="2.6" height="5.6" fill="#000"/>
<rect x="825.2" y="650" width="2.6" height="5.3" fill="#000"/>
<rect x="825.2" y="664.3" width="2.6" height="5.6" fill="#000"/>
<rect x="815" y="657.4" width="15.8" height="3.8" fill="none" stroke="#17961a" stroke-width="1.1"/>
<text transform="translate(816.5 648) scale(1.07 1)" font-size="8.1" fill="#17961a" stroke="#17961a" stroke-width="0.3" text-anchor="start" letter-spacing="0.3" >U7</text>
<rect x="834.5" y="595.3" width="7.5" height="7" fill="#000"/>
<rect x="834.5" y="605.8" width="7.5" height="7" fill="#000"/>
<text transform="translate(833 611) rotate(-90) scale(1.00 1)" font-size="8.5" fill="#17961a" stroke="#17961a" stroke-width="0.3" text-anchor="start" letter-spacing="0.3" >R12</text>
<rect x="834.5" y="622" width="7.5" height="7" fill="#000"/>
<rect x="834.5" y="641" width="7.5" height="7" fill="#000"/>
<text transform="translate(833 640) rotate(-90) scale(1.00 1)" font-size="8.5" fill="#17961a" stroke="#17961a" stroke-width="0.3" text-anchor="start" letter-spacing="0.3" >R16</text>
<rect x="829" y="664" width="8" height="7" fill="#000"/>
<rect x="829" y="676" width="8" height="7" fill="#000"/>
<text transform="translate(828 684) rotate(-90) scale(1.00 1)" font-size="8.5" fill="#17961a" stroke="#17961a" stroke-width="0.3" text-anchor="start" letter-spacing="0.3" >R19</text>
</g>
<g id="labels">
<path d="M195.3 15.8 H291.7 Q293 15.8 293 17.1 V71.7 Q293 73 291.7 73 H236 L222.8 80.5 L210 73 H195.3 Q194 73 194 71.7 V17.1 Q194 15.8 195.3 15.8 Z" fill="#4f81bd" fill-opacity="1" stroke="#385d8a" stroke-width="1.8" stroke-linejoin="round"/>
<text x="203.3" y="39.5" font-size="18" fill="#fff" text-anchor="start" textLength="67.5" lengthAdjust="spacingAndGlyphs">X motor</text>
<path d="M317.6 15.8 H411.2 Q412.5 15.8 412.5 17.1 V70.7 Q412.5 72 411.2 72 H357.5 L344.5 78.5 L332 72 H317.6 Q316.3 72 316.3 70.7 V17.1 Q316.3 15.8 317.6 15.8 Z" fill="#4f81bd" fill-opacity="1" stroke="#385d8a" stroke-width="1.8" stroke-linejoin="round"/>
<text x="324.5" y="39.5" font-size="18" fill="#fff" text-anchor="start" textLength="68" lengthAdjust="spacingAndGlyphs">Y motor</text>
<path d="M441 15.8 H535.2 Q536.5 15.8 536.5 17.1 V71.2 Q536.5 72.5 535.2 72.5 H480.5 L467.5 79.8 L455 72.5 H441 Q439.7 72.5 439.7 71.2 V17.1 Q439.7 15.8 441 15.8 Z" fill="#4f81bd" fill-opacity="1" stroke="#385d8a" stroke-width="1.8" stroke-linejoin="round"/>
<text x="448.8" y="39.5" font-size="18" fill="#fff" text-anchor="start" textLength="67.5" lengthAdjust="spacingAndGlyphs">Z motor</text>
<path d="M569.5 15.8 H663.7 Q665 15.8 665 17.1 V70.5 Q665 71.8 663.7 71.8 H609 L596 78.5 L583.5 71.8 H569.5 Q568.2 71.8 568.2 70.5 V17.1 Q568.2 15.8 569.5 15.8 Z" fill="#4f81bd" fill-opacity="1" stroke="#385d8a" stroke-width="1.8" stroke-linejoin="round"/>
<text x="578" y="39.5" font-size="18" fill="#fff" text-anchor="start" textLength="20" lengthAdjust="spacingAndGlyphs">E1</text>
<path d="M691.5 15.8 H785.9 Q787.2 15.8 787.2 17.1 V69.5 Q787.2 70.8 785.9 70.8 H731.8 L718.8 77.8 L706 70.8 H691.5 Q690.2 70.8 690.2 69.5 V17.1 Q690.2 15.8 691.5 15.8 Z" fill="#4f81bd" fill-opacity="1" stroke="#385d8a" stroke-width="1.8" stroke-linejoin="round"/>
<text x="699.5" y="39.5" font-size="18" fill="#fff" text-anchor="start" textLength="19.5" lengthAdjust="spacingAndGlyphs">E2</text>
<path d="M830.5 138.8 L866.8 103 L866.8 120.8 L1012 120.8 L1012 157 L866.8 157 L866.8 174.5 Z" fill="#4f81bd" fill-opacity="1" stroke="#385d8a" stroke-width="1.8" stroke-linejoin="round"/>
<text x="857.5" y="145" font-size="18" fill="#fff" text-anchor="start" textLength="122" lengthAdjust="spacingAndGlyphs">Thermocouple</text>
<path d="M855 224.3 L891.8 188.8 L891.8 206.3 L980 206.3 L980 242 L891.8 242 L891.8 260 Z" fill="#4f81bd" fill-opacity="1" stroke="#385d8a" stroke-width="1.8" stroke-linejoin="round"/>
<text x="881.8" y="230.3" font-size="18" fill="#fff" text-anchor="start" textLength="47" lengthAdjust="spacingAndGlyphs">Servo</text>
<path d="M855.5 310.8 L891.8 275.8 L891.8 293.3 L941 293.3 L941 329.3 L891.8 329.3 L891.8 346.3 Z" fill="#4f81bd" fill-opacity="1" stroke="#385d8a" stroke-width="1.8" stroke-linejoin="round"/>
<text x="883" y="318" font-size="18" fill="#fff" text-anchor="start" textLength="25" lengthAdjust="spacingAndGlyphs">I2C</text>
<path d="M859.3 419.3 L895.5 383.8 L895.5 401.3 L961.3 401.3 L961.3 437.5 L895.5 437.5 L895.5 455 Z" fill="#4f81bd" fill-opacity="1" stroke="#385d8a" stroke-width="1.8" stroke-linejoin="round"/>
<text x="886.3" y="425.3" font-size="18" fill="#fff" text-anchor="start" textLength="44" lengthAdjust="spacingAndGlyphs">GLCD</text>
<path d="M859.3 537.5 L895.5 502.5 L895.5 520 L961.3 520 L961.3 555.8 L895.5 555.8 L895.5 573.8 Z" fill="#4f81bd" fill-opacity="1" stroke="#385d8a" stroke-width="1.8" stroke-linejoin="round"/>
<text x="886.3" y="543.8" font-size="18" fill="#fff" text-anchor="start" textLength="32" lengthAdjust="spacingAndGlyphs">SD2</text>
<path d="M117.8 387.8 L83 353 L83 370.6 L17.5 370.6 L17.5 405.4 L83 405.4 L83 423 Z" fill="#4f81bd" fill-opacity="1" stroke="#385d8a" stroke-width="1.8" stroke-linejoin="round"/>
<text x="27.7" y="395.2" font-size="18" fill="#fff" text-anchor="start" textLength="22" lengthAdjust="spacingAndGlyphs">SD</text>
<path d="M106.8 480.8 L71.7 445.4 L71.7 463.2 L17.5 463.2 L17.5 498.3 L71.7 498.3 L71.7 515.2 Z" fill="#4f81bd" fill-opacity="1" stroke="#385d8a" stroke-width="1.8" stroke-linejoin="round"/>
<text x="28.3" y="488.5" font-size="18" fill="#fff" text-anchor="start" textLength="32" lengthAdjust="spacingAndGlyphs">USB</text>
<path d="M133.8 553 L98.5 518.3 L98.5 536.2 L3.2 536.2 L3.2 571 L98.5 571 L98.5 587.8 Z" fill="#4f81bd" fill-opacity="0.93" stroke="#385d8a" stroke-width="1.8" stroke-linejoin="round"/>
<text x="12.3" y="560.8" font-size="18" fill="#fff" text-anchor="start" textLength="30" lengthAdjust="spacingAndGlyphs">SSR</text>
<path d="M150.7 152.8 H243.3 Q244.6 152.8 244.6 154.1 V211.2 Q244.6 212.5 243.3 212.5 H188.6 L177.8 221.4 L167 212.5 H150.7 Q149.4 212.5 149.4 211.2 V154.1 Q149.4 152.8 150.7 152.8 Z" fill="#ffc000" fill-opacity="0.9" stroke="#5f497a" stroke-width="2.2" stroke-linejoin="round"/>
<text x="159" y="176.6" font-size="18" fill="#fff" text-anchor="start" textLength="59.5" lengthAdjust="spacingAndGlyphs">Drivers</text>
<text x="159" y="202.3" font-size="18" fill="#fff" text-anchor="start" textLength="62.5" lengthAdjust="spacingAndGlyphs">sockets</text>
<path d="M329.3 117.2 H440 Q441.3 117.2 441.3 118.5 V180.7 Q441.3 182 440 182 H374.5 L361.1 189.5 L347 182 H329.3 Q328 182 328 180.7 V118.5 Q328 117.2 329.3 117.2 Z" fill="#92d050" fill-opacity="0.88" stroke="#bf7130" stroke-width="2.2" stroke-linejoin="round"/>
<text x="338" y="141.5" font-size="18" fill="#fff" text-anchor="start" textLength="84" lengthAdjust="spacingAndGlyphs">Microstep</text>
<text x="338" y="167" font-size="18" fill="#fff" text-anchor="start" textLength="72" lengthAdjust="spacingAndGlyphs">switches</text>
<path d="M463.7 237.2 H564.9 Q566.2 237.2 566.2 238.5 V295.2 Q566.2 296.5 564.9 296.5 H503.9 L492.7 305.4 L482.2 296.5 H463.7 Q462.4 296.5 462.4 295.2 V238.5 Q462.4 237.2 463.7 237.2 Z" fill="#5a8fd8" fill-opacity="0.88" stroke="#3a7c9c" stroke-width="2.2" stroke-linejoin="round"/>
<text x="472.4" y="261.2" font-size="18" fill="#fff" text-anchor="start" textLength="59.3" lengthAdjust="spacingAndGlyphs">Drivers</text>
<path d="M441 335 H534.3 Q535.6 335 535.6 336.3 V401.9 Q535.6 403.2 534.3 403.2 H478.3 L467.5 411 L456.7 403.2 H441 Q439.7 403.2 439.7 401.9 V336.3 Q439.7 335 441 335 Z" fill="#4f81bd" fill-opacity="0.88" stroke="#385d8a" stroke-width="2" stroke-linejoin="round"/>
<text x="448.3" y="360" font-size="18" fill="#fff" text-anchor="start" textLength="60.5" lengthAdjust="spacingAndGlyphs">Second</text>
<text x="448.3" y="384.5" font-size="18" fill="#fff" text-anchor="start" textLength="22" lengthAdjust="spacingAndGlyphs">SD</text>
<path d="M694.8 257.5 H803.9 Q805.2 257.5 805.2 258.8 V320.1 Q805.2 321.4 803.9 321.4 H737.9 L726.1 328.5 L713.3 321.4 H694.8 Q693.5 321.4 693.5 320.1 V258.8 Q693.5 257.5 694.8 257.5 Z" fill="#4f81bd" fill-opacity="0.88" stroke="#385d8a" stroke-width="2" stroke-linejoin="round"/>
<text x="703.5" y="281.3" font-size="18" fill="#fff" text-anchor="start" textLength="73.7" lengthAdjust="spacingAndGlyphs">Modules</text>
<text x="703.5" y="307.3" font-size="18" fill="#fff" text-anchor="start" textLength="85.5" lengthAdjust="spacingAndGlyphs">connector</text>
<path d="M738.8 340.9 H860.9 Q862.2 340.9 862.2 342.2 V400.7 Q862.2 402 860.9 402 H788.4 L775.2 409.9 L761.8 402 H738.8 Q737.5 402 737.5 400.7 V342.2 Q737.5 340.9 738.8 340.9 Z" fill="#fb9a45" fill-opacity="0.92" stroke="#385d8a" stroke-width="2" stroke-linejoin="round"/>
<text x="747.6" y="364.3" font-size="18" fill="#fff" text-anchor="start" textLength="92.8" lengthAdjust="spacingAndGlyphs">Endstops V</text>
<text x="747.8" y="389.8" font-size="18" fill="#fff" text-anchor="start" textLength="66" lengthAdjust="spacingAndGlyphs">selector</text>
<path d="M798.8 616.8 L833.8 581.3 L833.8 598.8 L950.5 598.8 L950.5 634.3 L833.8 634.3 L833.8 651.3 Z" fill="#fb9a45" fill-opacity="0.93" stroke="#385d8a" stroke-width="2" stroke-linejoin="round"/>
<text x="825" y="622.5" font-size="18" fill="#fff" text-anchor="start" textLength="107" lengthAdjust="spacingAndGlyphs">Endstops S V</text>
<path d="M811.3 672.5 L846.8 637.5 L846.8 654.5 L973.8 654.5 L973.8 690.5 L846.8 690.5 L846.8 707.5 Z" fill="#4f81bd" fill-opacity="0.88" stroke="#385d8a" stroke-width="2" stroke-linejoin="round"/>
<text x="837.3" y="679.3" font-size="18" fill="#fff" text-anchor="start" textLength="81" lengthAdjust="spacingAndGlyphs">Autolevel</text>
<rect x="12.6" y="250.8" width="96.8" height="45" rx="7.5" fill="#ff2020" stroke="#385d8a" stroke-width="2"/>
<text x="24.3" y="269.5" font-size="10.5" fill="#fff" text-anchor="start" textLength="53.8" lengthAdjust="spacingAndGlyphs">Power out</text>
<text x="24.3" y="284.5" font-size="10.5" fill="#fff" text-anchor="start" textLength="57.8" lengthAdjust="spacingAndGlyphs">connectors</text>
<path d="M202.7 751 L274 803.8 L238 803.8 L238 849.4 L167.8 849.4 L167.8 803.8 L132 803.8 Z" fill="#4f81bd" fill-opacity="1" stroke="#385d8a" stroke-width="1.7" stroke-linejoin="round"/>
<text x="202.7" y="808.5" font-size="13.3" fill="#fff" text-anchor="middle" textLength="42" lengthAdjust="spacingAndGlyphs">Power</text>
<text x="202.7" y="828.7" font-size="13.3" fill="#fff" text-anchor="middle" textLength="13" lengthAdjust="spacingAndGlyphs">IN</text>
<path d="M263.6 746 V756.6 Q263.6 762.6 269.6 762.6 H406.4 Q412.4 762.6 412.4 756.6 V746 M337 762.6 V770" fill="none" stroke="#4a7ebb" stroke-width="4" stroke-linecap="round"/>
<path d="M337 766.7 L414 816.4 L375.3 816.4 L375.3 865 L298.3 865 L298.3 816.4 L257.4 816.4 Z" fill="#4f81bd" fill-opacity="1" stroke="#385d8a" stroke-width="1.7" stroke-linejoin="round"/>
<path d="M337 768 V781" stroke="#4a7ebb" stroke-width="3" opacity="0.6"/>
<text x="336.5" y="823.3" font-size="13.3" fill="#fff" text-anchor="middle" textLength="40" lengthAdjust="spacingAndGlyphs">Heads</text>
<text x="336.5" y="843.8" font-size="13.3" fill="#fff" text-anchor="middle" textLength="51.3" lengthAdjust="spacingAndGlyphs">Heaters</text>
<path d="M414.2 746 V756 Q414.2 762 420.2 762 H523 Q529 762 529 756 V746 M473 762 V775" fill="none" stroke="#4a7ebb" stroke-width="4" stroke-linecap="round"/>
<path d="M473 773 L544.7 823.3 L508.5 823.3 L508.5 872 L437.7 872 L437.7 823.3 L401 823.3 Z" fill="#4f81bd" fill-opacity="1" stroke="#385d8a" stroke-width="1.7" stroke-linejoin="round"/>
<text x="473" y="830.6" font-size="13.3" fill="#fff" text-anchor="middle" textLength="41" lengthAdjust="spacingAndGlyphs">Heads</text>
<text x="472.5" y="850.7" font-size="13.3" fill="#fff" text-anchor="middle" textLength="30" lengthAdjust="spacingAndGlyphs">Fans</text>
<path d="M540.8 746 V758.5 Q540.8 764.5 546.8 764.5 H707.4 Q713.4 764.5 713.4 758.5 V746 M626.4 764.5 V774" fill="none" stroke="#4a7ebb" stroke-width="4" stroke-linecap="round"/>
<path d="M626.4 771.4 L702.5 822.4 L663.5 822.4 L663.5 870.5 L589.6 870.5 L589.6 822.4 L551 822.4 Z" fill="#4f81bd" fill-opacity="1" stroke="#385d8a" stroke-width="1.7" stroke-linejoin="round"/>
<text x="626.4" y="829.6" font-size="13.3" fill="#fff" text-anchor="middle" textLength="52.5" lengthAdjust="spacingAndGlyphs">Thermis</text>
<text x="626.4" y="849.4" font-size="13.3" fill="#fff" text-anchor="middle" textLength="25.2" lengthAdjust="spacingAndGlyphs">tors</text>
<path d="M757 743 L833.3 792.4 L793.6 792.4 L793.6 841.2 L718.8 841.2 L718.8 792.4 L680.7 792.4 Z" fill="#4f81bd" fill-opacity="1" stroke="#385d8a" stroke-width="1.7" stroke-linejoin="round"/>
<text x="757" y="810" font-size="13.3" fill="#fff" text-anchor="middle" textLength="36.6" lengthAdjust="spacingAndGlyphs">Reset</text>
</g>
</svg>
</body>
</html>
